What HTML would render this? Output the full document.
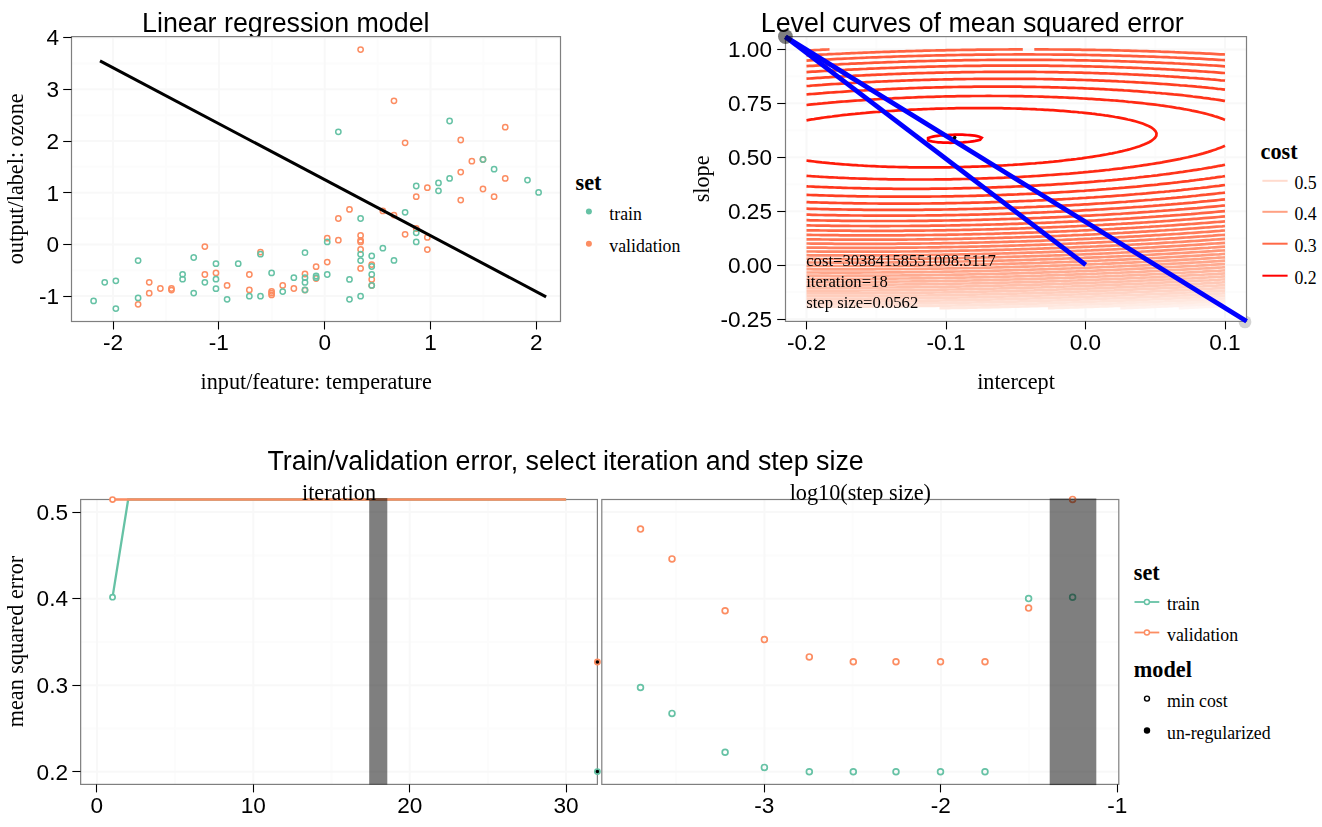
<!DOCTYPE html><html><head><meta charset="utf-8"><style>html,body{margin:0;padding:0;background:#fff;overflow:hidden;width:1322px;height:827px}.l{position:absolute;left:0;top:0}svg{display:block}</style></head><body><div class="l"><svg width="1322" height="827" viewBox="0 0 1322 827"><text x="575.60" y="190.30" font-family='"Liberation Serif", serif' font-size="22.22" text-anchor="start" font-weight="bold" fill="#000">set</text>
<circle cx="588.9" cy="211.6" r="3" fill="#66C2A5"/>
<circle cx="588.9" cy="243.8" r="3" fill="#FC8D62"/>
<text x="609.30" y="220.20" font-family='"Liberation Serif", serif' font-size="17.78" text-anchor="start" font-weight="normal" fill="#000">train</text>
<text x="609.30" y="252.30" font-family='"Liberation Serif", serif' font-size="17.78" text-anchor="start" font-weight="normal" fill="#000">validation</text>
<text x="1260.60" y="159.10" font-family='"Liberation Serif", serif' font-size="22.22" text-anchor="start" font-weight="bold" fill="#000">cost</text>
<line x1="1262.40" y1="180.80" x2="1287.60" y2="180.80" stroke="#FFDBCE" stroke-width="2" />
<text x="1294.40" y="189.00" font-family='"Liberation Serif", serif' font-size="17.78" text-anchor="start" font-weight="normal" fill="#000">0.5</text>
<line x1="1262.40" y1="211.80" x2="1287.60" y2="211.80" stroke="#FFA183" stroke-width="2" />
<text x="1294.40" y="220.00" font-family='"Liberation Serif", serif' font-size="17.78" text-anchor="start" font-weight="normal" fill="#000">0.4</text>
<line x1="1262.40" y1="243.70" x2="1287.60" y2="243.70" stroke="#FF6846" stroke-width="2" />
<text x="1294.40" y="251.90" font-family='"Liberation Serif", serif' font-size="17.78" text-anchor="start" font-weight="normal" fill="#000">0.3</text>
<line x1="1262.40" y1="275.70" x2="1287.60" y2="275.70" stroke="#FF0000" stroke-width="2" />
<text x="1294.40" y="283.90" font-family='"Liberation Serif", serif' font-size="17.78" text-anchor="start" font-weight="normal" fill="#000">0.2</text>
<text x="1133.80" y="580.10" font-family='"Liberation Serif", serif' font-size="22.22" text-anchor="start" font-weight="bold" fill="#000">set</text>
<line x1="1134.50" y1="602.00" x2="1159.30" y2="602.00" stroke="#66C2A5" stroke-width="1.8" />
<circle cx="1146.9" cy="602.0" r="2.5" fill="#fff" stroke="#66C2A5" stroke-width="1.4"/>
<text x="1167.00" y="609.90" font-family='"Liberation Serif", serif' font-size="17.78" text-anchor="start" font-weight="normal" fill="#000">train</text>
<line x1="1134.50" y1="632.50" x2="1159.30" y2="632.50" stroke="#FC8D62" stroke-width="1.8" />
<circle cx="1146.9" cy="632.5" r="2.5" fill="#fff" stroke="#FC8D62" stroke-width="1.4"/>
<text x="1167.00" y="640.90" font-family='"Liberation Serif", serif' font-size="17.78" text-anchor="start" font-weight="normal" fill="#000">validation</text>
<text x="1133.80" y="676.50" font-family='"Liberation Serif", serif' font-size="22.22" text-anchor="start" font-weight="bold" fill="#000">model</text>
<circle cx="1147.0" cy="698.6" r="2.5" fill="#fff" stroke="#000" stroke-width="1.4"/>
<circle cx="1147.0" cy="730.5" r="3.2" fill="#000"/>
<text x="1167.00" y="706.90" font-family='"Liberation Serif", serif' font-size="17.78" text-anchor="start" font-weight="normal" fill="#000">min cost</text>
<text x="1167.00" y="738.70" font-family='"Liberation Serif", serif' font-size="17.78" text-anchor="start" font-weight="normal" fill="#000">un-regularized</text></svg></div><div class="l" style="will-change:transform"><svg width="1322" height="827" viewBox="0 0 1322 827"><text x="285.80" y="31.50" font-family='"Liberation Sans", sans-serif' font-size="26.8" text-anchor="middle" font-weight="normal" fill="#000">Linear regression model</text>
<line x1="166.00" y1="36.60" x2="166.00" y2="321.50" stroke="#FCFCFC" stroke-width="2" />
<line x1="271.80" y1="36.60" x2="271.80" y2="321.50" stroke="#FCFCFC" stroke-width="2" />
<line x1="377.60" y1="36.60" x2="377.60" y2="321.50" stroke="#FCFCFC" stroke-width="2" />
<line x1="483.40" y1="36.60" x2="483.40" y2="321.50" stroke="#FCFCFC" stroke-width="2" />
<line x1="71.50" y1="270.25" x2="560.50" y2="270.25" stroke="#FCFCFC" stroke-width="2" />
<line x1="71.50" y1="218.55" x2="560.50" y2="218.55" stroke="#FCFCFC" stroke-width="2" />
<line x1="71.50" y1="166.85" x2="560.50" y2="166.85" stroke="#FCFCFC" stroke-width="2" />
<line x1="71.50" y1="115.15" x2="560.50" y2="115.15" stroke="#FCFCFC" stroke-width="2" />
<line x1="71.50" y1="63.45" x2="560.50" y2="63.45" stroke="#FCFCFC" stroke-width="2" />
<line x1="113.10" y1="36.60" x2="113.10" y2="321.50" stroke="#F8F8F8" stroke-width="2" />
<line x1="218.90" y1="36.60" x2="218.90" y2="321.50" stroke="#F8F8F8" stroke-width="2" />
<line x1="324.70" y1="36.60" x2="324.70" y2="321.50" stroke="#F8F8F8" stroke-width="2" />
<line x1="430.50" y1="36.60" x2="430.50" y2="321.50" stroke="#F8F8F8" stroke-width="2" />
<line x1="536.30" y1="36.60" x2="536.30" y2="321.50" stroke="#F8F8F8" stroke-width="2" />
<line x1="71.50" y1="296.10" x2="560.50" y2="296.10" stroke="#F8F8F8" stroke-width="2" />
<line x1="71.50" y1="244.40" x2="560.50" y2="244.40" stroke="#F8F8F8" stroke-width="2" />
<line x1="71.50" y1="192.70" x2="560.50" y2="192.70" stroke="#F8F8F8" stroke-width="2" />
<line x1="71.50" y1="141.00" x2="560.50" y2="141.00" stroke="#F8F8F8" stroke-width="2" />
<line x1="71.50" y1="89.30" x2="560.50" y2="89.30" stroke="#F8F8F8" stroke-width="2" />
<line x1="71.50" y1="37.60" x2="560.50" y2="37.60" stroke="#F8F8F8" stroke-width="2" />
<rect x="71.50" y="36.60" width="489.00" height="284.90" fill="none" stroke="#7F7F7F" stroke-width="1.2"/>
<circle cx="138.10" cy="304.30" r="2.65" fill="none" stroke="#FC8D62" stroke-width="1.5"/>
<circle cx="149.22" cy="282.30" r="2.65" fill="none" stroke="#FC8D62" stroke-width="1.5"/>
<circle cx="149.22" cy="293.20" r="2.65" fill="none" stroke="#FC8D62" stroke-width="1.5"/>
<circle cx="160.35" cy="288.50" r="2.65" fill="none" stroke="#FC8D62" stroke-width="1.5"/>
<circle cx="171.47" cy="288.50" r="2.65" fill="none" stroke="#FC8D62" stroke-width="1.5"/>
<circle cx="171.47" cy="290.10" r="2.65" fill="none" stroke="#FC8D62" stroke-width="1.5"/>
<circle cx="204.85" cy="246.60" r="2.65" fill="none" stroke="#FC8D62" stroke-width="1.5"/>
<circle cx="204.85" cy="274.50" r="2.65" fill="none" stroke="#FC8D62" stroke-width="1.5"/>
<circle cx="215.97" cy="272.90" r="2.65" fill="none" stroke="#FC8D62" stroke-width="1.5"/>
<circle cx="227.10" cy="285.40" r="2.65" fill="none" stroke="#FC8D62" stroke-width="1.5"/>
<circle cx="249.35" cy="274.50" r="2.65" fill="none" stroke="#FC8D62" stroke-width="1.5"/>
<circle cx="249.35" cy="289.90" r="2.65" fill="none" stroke="#FC8D62" stroke-width="1.5"/>
<circle cx="260.48" cy="252.10" r="2.65" fill="none" stroke="#FC8D62" stroke-width="1.5"/>
<circle cx="271.60" cy="291.30" r="2.65" fill="none" stroke="#FC8D62" stroke-width="1.5"/>
<circle cx="271.60" cy="293.20" r="2.65" fill="none" stroke="#FC8D62" stroke-width="1.5"/>
<circle cx="271.60" cy="294.90" r="2.65" fill="none" stroke="#FC8D62" stroke-width="1.5"/>
<circle cx="282.73" cy="285.40" r="2.65" fill="none" stroke="#FC8D62" stroke-width="1.5"/>
<circle cx="293.85" cy="288.50" r="2.65" fill="none" stroke="#FC8D62" stroke-width="1.5"/>
<circle cx="304.98" cy="274.00" r="2.65" fill="none" stroke="#FC8D62" stroke-width="1.5"/>
<circle cx="304.98" cy="290.10" r="2.65" fill="none" stroke="#FC8D62" stroke-width="1.5"/>
<circle cx="316.10" cy="266.70" r="2.65" fill="none" stroke="#FC8D62" stroke-width="1.5"/>
<circle cx="316.10" cy="278.50" r="2.65" fill="none" stroke="#FC8D62" stroke-width="1.5"/>
<circle cx="327.23" cy="238.20" r="2.65" fill="none" stroke="#FC8D62" stroke-width="1.5"/>
<circle cx="327.23" cy="262.10" r="2.65" fill="none" stroke="#FC8D62" stroke-width="1.5"/>
<circle cx="338.35" cy="240.20" r="2.65" fill="none" stroke="#FC8D62" stroke-width="1.5"/>
<circle cx="338.35" cy="218.50" r="2.65" fill="none" stroke="#FC8D62" stroke-width="1.5"/>
<circle cx="349.48" cy="209.40" r="2.65" fill="none" stroke="#FC8D62" stroke-width="1.5"/>
<circle cx="360.60" cy="49.60" r="2.65" fill="none" stroke="#FC8D62" stroke-width="1.5"/>
<circle cx="360.60" cy="235.40" r="2.65" fill="none" stroke="#FC8D62" stroke-width="1.5"/>
<circle cx="360.60" cy="240.40" r="2.65" fill="none" stroke="#FC8D62" stroke-width="1.5"/>
<circle cx="360.60" cy="241.90" r="2.65" fill="none" stroke="#FC8D62" stroke-width="1.5"/>
<circle cx="360.60" cy="249.50" r="2.65" fill="none" stroke="#FC8D62" stroke-width="1.5"/>
<circle cx="360.60" cy="268.40" r="2.65" fill="none" stroke="#FC8D62" stroke-width="1.5"/>
<circle cx="371.73" cy="264.60" r="2.65" fill="none" stroke="#FC8D62" stroke-width="1.5"/>
<circle cx="371.73" cy="279.40" r="2.65" fill="none" stroke="#FC8D62" stroke-width="1.5"/>
<circle cx="371.73" cy="285.60" r="2.65" fill="none" stroke="#FC8D62" stroke-width="1.5"/>
<circle cx="382.85" cy="210.90" r="2.65" fill="none" stroke="#FC8D62" stroke-width="1.5"/>
<circle cx="393.98" cy="215.10" r="2.65" fill="none" stroke="#FC8D62" stroke-width="1.5"/>
<circle cx="393.98" cy="100.80" r="2.65" fill="none" stroke="#FC8D62" stroke-width="1.5"/>
<circle cx="405.10" cy="142.80" r="2.65" fill="none" stroke="#FC8D62" stroke-width="1.5"/>
<circle cx="405.10" cy="234.30" r="2.65" fill="none" stroke="#FC8D62" stroke-width="1.5"/>
<circle cx="416.23" cy="196.70" r="2.65" fill="none" stroke="#FC8D62" stroke-width="1.5"/>
<circle cx="416.23" cy="228.50" r="2.65" fill="none" stroke="#FC8D62" stroke-width="1.5"/>
<circle cx="427.35" cy="187.70" r="2.65" fill="none" stroke="#FC8D62" stroke-width="1.5"/>
<circle cx="427.35" cy="237.40" r="2.65" fill="none" stroke="#FC8D62" stroke-width="1.5"/>
<circle cx="427.35" cy="249.60" r="2.65" fill="none" stroke="#FC8D62" stroke-width="1.5"/>
<circle cx="460.73" cy="140.00" r="2.65" fill="none" stroke="#FC8D62" stroke-width="1.5"/>
<circle cx="460.73" cy="172.10" r="2.65" fill="none" stroke="#FC8D62" stroke-width="1.5"/>
<circle cx="460.73" cy="200.10" r="2.65" fill="none" stroke="#FC8D62" stroke-width="1.5"/>
<circle cx="471.85" cy="161.20" r="2.65" fill="none" stroke="#FC8D62" stroke-width="1.5"/>
<circle cx="482.98" cy="189.00" r="2.65" fill="none" stroke="#FC8D62" stroke-width="1.5"/>
<circle cx="482.98" cy="159.50" r="2.65" fill="none" stroke="#FC8D62" stroke-width="1.5"/>
<circle cx="494.10" cy="196.70" r="2.65" fill="none" stroke="#FC8D62" stroke-width="1.5"/>
<circle cx="505.23" cy="127.20" r="2.65" fill="none" stroke="#FC8D62" stroke-width="1.5"/>
<circle cx="505.23" cy="178.40" r="2.65" fill="none" stroke="#FC8D62" stroke-width="1.5"/>
<circle cx="93.60" cy="300.90" r="2.65" fill="none" stroke="#66C2A5" stroke-width="1.5"/>
<circle cx="104.72" cy="282.30" r="2.65" fill="none" stroke="#66C2A5" stroke-width="1.5"/>
<circle cx="115.85" cy="280.80" r="2.65" fill="none" stroke="#66C2A5" stroke-width="1.5"/>
<circle cx="115.85" cy="308.60" r="2.65" fill="none" stroke="#66C2A5" stroke-width="1.5"/>
<circle cx="138.10" cy="260.60" r="2.65" fill="none" stroke="#66C2A5" stroke-width="1.5"/>
<circle cx="138.10" cy="297.90" r="2.65" fill="none" stroke="#66C2A5" stroke-width="1.5"/>
<circle cx="182.60" cy="274.30" r="2.65" fill="none" stroke="#66C2A5" stroke-width="1.5"/>
<circle cx="182.60" cy="279.20" r="2.65" fill="none" stroke="#66C2A5" stroke-width="1.5"/>
<circle cx="193.72" cy="257.50" r="2.65" fill="none" stroke="#66C2A5" stroke-width="1.5"/>
<circle cx="193.72" cy="293.10" r="2.65" fill="none" stroke="#66C2A5" stroke-width="1.5"/>
<circle cx="204.85" cy="282.30" r="2.65" fill="none" stroke="#66C2A5" stroke-width="1.5"/>
<circle cx="215.97" cy="263.70" r="2.65" fill="none" stroke="#66C2A5" stroke-width="1.5"/>
<circle cx="215.97" cy="279.20" r="2.65" fill="none" stroke="#66C2A5" stroke-width="1.5"/>
<circle cx="215.97" cy="288.70" r="2.65" fill="none" stroke="#66C2A5" stroke-width="1.5"/>
<circle cx="227.10" cy="299.30" r="2.65" fill="none" stroke="#66C2A5" stroke-width="1.5"/>
<circle cx="238.22" cy="263.70" r="2.65" fill="none" stroke="#66C2A5" stroke-width="1.5"/>
<circle cx="260.48" cy="254.20" r="2.65" fill="none" stroke="#66C2A5" stroke-width="1.5"/>
<circle cx="249.35" cy="296.20" r="2.65" fill="none" stroke="#66C2A5" stroke-width="1.5"/>
<circle cx="260.48" cy="296.20" r="2.65" fill="none" stroke="#66C2A5" stroke-width="1.5"/>
<circle cx="271.60" cy="272.90" r="2.65" fill="none" stroke="#66C2A5" stroke-width="1.5"/>
<circle cx="282.73" cy="291.60" r="2.65" fill="none" stroke="#66C2A5" stroke-width="1.5"/>
<circle cx="293.85" cy="277.70" r="2.65" fill="none" stroke="#66C2A5" stroke-width="1.5"/>
<circle cx="304.98" cy="252.70" r="2.65" fill="none" stroke="#66C2A5" stroke-width="1.5"/>
<circle cx="304.98" cy="277.70" r="2.65" fill="none" stroke="#66C2A5" stroke-width="1.5"/>
<circle cx="304.98" cy="282.40" r="2.65" fill="none" stroke="#66C2A5" stroke-width="1.5"/>
<circle cx="304.98" cy="289.90" r="2.65" fill="none" stroke="#66C2A5" stroke-width="1.5"/>
<circle cx="316.10" cy="276.00" r="2.65" fill="none" stroke="#66C2A5" stroke-width="1.5"/>
<circle cx="316.10" cy="277.70" r="2.65" fill="none" stroke="#66C2A5" stroke-width="1.5"/>
<circle cx="327.23" cy="241.90" r="2.65" fill="none" stroke="#66C2A5" stroke-width="1.5"/>
<circle cx="327.23" cy="274.50" r="2.65" fill="none" stroke="#66C2A5" stroke-width="1.5"/>
<circle cx="338.35" cy="131.80" r="2.65" fill="none" stroke="#66C2A5" stroke-width="1.5"/>
<circle cx="349.48" cy="279.40" r="2.65" fill="none" stroke="#66C2A5" stroke-width="1.5"/>
<circle cx="349.48" cy="299.30" r="2.65" fill="none" stroke="#66C2A5" stroke-width="1.5"/>
<circle cx="360.60" cy="218.50" r="2.65" fill="none" stroke="#66C2A5" stroke-width="1.5"/>
<circle cx="360.60" cy="254.20" r="2.65" fill="none" stroke="#66C2A5" stroke-width="1.5"/>
<circle cx="360.60" cy="260.60" r="2.65" fill="none" stroke="#66C2A5" stroke-width="1.5"/>
<circle cx="360.60" cy="296.20" r="2.65" fill="none" stroke="#66C2A5" stroke-width="1.5"/>
<circle cx="371.73" cy="255.90" r="2.65" fill="none" stroke="#66C2A5" stroke-width="1.5"/>
<circle cx="371.73" cy="266.50" r="2.65" fill="none" stroke="#66C2A5" stroke-width="1.5"/>
<circle cx="371.73" cy="274.50" r="2.65" fill="none" stroke="#66C2A5" stroke-width="1.5"/>
<circle cx="371.73" cy="285.40" r="2.65" fill="none" stroke="#66C2A5" stroke-width="1.5"/>
<circle cx="382.85" cy="248.20" r="2.65" fill="none" stroke="#66C2A5" stroke-width="1.5"/>
<circle cx="393.98" cy="260.40" r="2.65" fill="none" stroke="#66C2A5" stroke-width="1.5"/>
<circle cx="405.10" cy="212.30" r="2.65" fill="none" stroke="#66C2A5" stroke-width="1.5"/>
<circle cx="416.23" cy="232.80" r="2.65" fill="none" stroke="#66C2A5" stroke-width="1.5"/>
<circle cx="416.23" cy="241.90" r="2.65" fill="none" stroke="#66C2A5" stroke-width="1.5"/>
<circle cx="416.23" cy="186.00" r="2.65" fill="none" stroke="#66C2A5" stroke-width="1.5"/>
<circle cx="438.48" cy="182.90" r="2.65" fill="none" stroke="#66C2A5" stroke-width="1.5"/>
<circle cx="438.48" cy="190.80" r="2.65" fill="none" stroke="#66C2A5" stroke-width="1.5"/>
<circle cx="449.60" cy="178.40" r="2.65" fill="none" stroke="#66C2A5" stroke-width="1.5"/>
<circle cx="449.60" cy="121.00" r="2.65" fill="none" stroke="#66C2A5" stroke-width="1.5"/>
<circle cx="482.98" cy="159.50" r="2.65" fill="none" stroke="#66C2A5" stroke-width="1.5"/>
<circle cx="494.10" cy="169.20" r="2.65" fill="none" stroke="#66C2A5" stroke-width="1.5"/>
<circle cx="527.48" cy="180.10" r="2.65" fill="none" stroke="#66C2A5" stroke-width="1.5"/>
<circle cx="538.60" cy="192.40" r="2.65" fill="none" stroke="#66C2A5" stroke-width="1.5"/>
<line x1="100.00" y1="60.80" x2="546.10" y2="296.80" stroke="#000" stroke-width="3" />
<line x1="63.20" y1="37.50" x2="71.50" y2="37.50" stroke="#000" stroke-width="1.1" />
<text x="59.20" y="45.40" font-family='"Liberation Sans", sans-serif' font-size="22.6" text-anchor="end" font-weight="normal" fill="#000">4</text>
<line x1="63.20" y1="89.50" x2="71.50" y2="89.50" stroke="#000" stroke-width="1.1" />
<text x="59.20" y="97.10" font-family='"Liberation Sans", sans-serif' font-size="22.6" text-anchor="end" font-weight="normal" fill="#000">3</text>
<line x1="63.20" y1="141.50" x2="71.50" y2="141.50" stroke="#000" stroke-width="1.1" />
<text x="59.20" y="148.80" font-family='"Liberation Sans", sans-serif' font-size="22.6" text-anchor="end" font-weight="normal" fill="#000">2</text>
<line x1="63.20" y1="192.50" x2="71.50" y2="192.50" stroke="#000" stroke-width="1.1" />
<text x="59.20" y="200.50" font-family='"Liberation Sans", sans-serif' font-size="22.6" text-anchor="end" font-weight="normal" fill="#000">1</text>
<line x1="63.20" y1="244.50" x2="71.50" y2="244.50" stroke="#000" stroke-width="1.1" />
<text x="59.20" y="252.20" font-family='"Liberation Sans", sans-serif' font-size="22.6" text-anchor="end" font-weight="normal" fill="#000">0</text>
<line x1="63.20" y1="296.50" x2="71.50" y2="296.50" stroke="#000" stroke-width="1.1" />
<text x="59.20" y="303.90" font-family='"Liberation Sans", sans-serif' font-size="22.6" text-anchor="end" font-weight="normal" fill="#000">-1</text>
<line x1="113.50" y1="321.50" x2="113.50" y2="329.50" stroke="#000" stroke-width="1.1" />
<text x="113.10" y="349.70" font-family='"Liberation Sans", sans-serif' font-size="22.6" text-anchor="middle" font-weight="normal" fill="#000">-2</text>
<line x1="218.50" y1="321.50" x2="218.50" y2="329.50" stroke="#000" stroke-width="1.1" />
<text x="218.90" y="349.70" font-family='"Liberation Sans", sans-serif' font-size="22.6" text-anchor="middle" font-weight="normal" fill="#000">-1</text>
<line x1="324.50" y1="321.50" x2="324.50" y2="329.50" stroke="#000" stroke-width="1.1" />
<text x="324.70" y="349.70" font-family='"Liberation Sans", sans-serif' font-size="22.6" text-anchor="middle" font-weight="normal" fill="#000">0</text>
<line x1="430.50" y1="321.50" x2="430.50" y2="329.50" stroke="#000" stroke-width="1.1" />
<text x="430.50" y="349.70" font-family='"Liberation Sans", sans-serif' font-size="22.6" text-anchor="middle" font-weight="normal" fill="#000">1</text>
<line x1="536.50" y1="321.50" x2="536.50" y2="329.50" stroke="#000" stroke-width="1.1" />
<text x="536.30" y="349.70" font-family='"Liberation Sans", sans-serif' font-size="22.6" text-anchor="middle" font-weight="normal" fill="#000">2</text>
<text x="316.20" y="388.70" font-family='"Liberation Serif", serif' font-size="22.22" text-anchor="middle" font-weight="normal" fill="#000">input/feature: temperature</text>
<text x="23.50" y="178.80" font-family='"Liberation Serif", serif' font-size="22.22" text-anchor="middle" font-weight="normal" fill="#000" transform="rotate(-90 23.5 178.8)">output/label: ozone</text>
<text x="972.30" y="31.50" font-family='"Liberation Sans", sans-serif' font-size="26.8" text-anchor="middle" font-weight="normal" fill="#000">Level curves of mean squared error</text>
<circle cx="1245.0" cy="321.9" r="6.4" fill="#D3D3D3"/>
<rect x="785.5" y="36.6" width="461.0" height="284.79999999999995" fill="#fff"/>
<line x1="876.25" y1="36.60" x2="876.25" y2="321.40" stroke="#FCFCFC" stroke-width="2" />
<line x1="1015.75" y1="36.60" x2="1015.75" y2="321.40" stroke="#FCFCFC" stroke-width="2" />
<line x1="1155.25" y1="36.60" x2="1155.25" y2="321.40" stroke="#FCFCFC" stroke-width="2" />
<line x1="785.50" y1="292.06" x2="1246.50" y2="292.06" stroke="#FCFCFC" stroke-width="2" />
<line x1="785.50" y1="238.14" x2="1246.50" y2="238.14" stroke="#FCFCFC" stroke-width="2" />
<line x1="785.50" y1="184.21" x2="1246.50" y2="184.21" stroke="#FCFCFC" stroke-width="2" />
<line x1="785.50" y1="130.29" x2="1246.50" y2="130.29" stroke="#FCFCFC" stroke-width="2" />
<line x1="785.50" y1="76.36" x2="1246.50" y2="76.36" stroke="#FCFCFC" stroke-width="2" />
<line x1="806.50" y1="36.60" x2="806.50" y2="321.40" stroke="#F8F8F8" stroke-width="2" />
<line x1="946.00" y1="36.60" x2="946.00" y2="321.40" stroke="#F8F8F8" stroke-width="2" />
<line x1="1085.50" y1="36.60" x2="1085.50" y2="321.40" stroke="#F8F8F8" stroke-width="2" />
<line x1="1225.00" y1="36.60" x2="1225.00" y2="321.40" stroke="#F8F8F8" stroke-width="2" />
<line x1="785.50" y1="319.03" x2="1246.50" y2="319.03" stroke="#F8F8F8" stroke-width="2" />
<line x1="785.50" y1="265.10" x2="1246.50" y2="265.10" stroke="#F8F8F8" stroke-width="2" />
<line x1="785.50" y1="211.18" x2="1246.50" y2="211.18" stroke="#F8F8F8" stroke-width="2" />
<line x1="785.50" y1="157.25" x2="1246.50" y2="157.25" stroke="#F8F8F8" stroke-width="2" />
<line x1="785.50" y1="103.33" x2="1246.50" y2="103.33" stroke="#F8F8F8" stroke-width="2" />
<line x1="785.50" y1="49.40" x2="1246.50" y2="49.40" stroke="#F8F8F8" stroke-width="2" />
<rect x="785.50" y="36.60" width="461.00" height="284.80" fill="none" stroke="#7F7F7F" stroke-width="1.2"/>
<path d="M1225.0,306.0 L1220.1,306.3 L1217.6,306.4 L1215.1,306.5 L1212.6,306.6 L1210.1,306.8 L1207.6,306.9 L1205.1,307.0 L1202.6,307.1 L1200.1,307.2 L1197.6,307.4 L1195.1,307.5 L1192.6,307.6 L1190.1,307.7 L1187.6,307.8 L1185.0,308.0 L1182.5,308.1 L1180.0,308.2 L1178.8,308.2" fill="none" stroke="#FFF5F2" stroke-width="2.7"/>
<path d="M1225.0,303.5 L1221.4,303.7 L1218.9,303.8 L1216.5,304.0 L1214.0,304.1 L1211.5,304.2 L1209.1,304.3 L1206.6,304.5 L1204.1,304.6 L1201.7,304.7 L1199.2,304.8 L1196.7,304.9 L1194.3,305.1 L1191.8,305.2 L1189.3,305.3 L1186.9,305.4 L1184.4,305.5 L1181.9,305.6 L1179.4,305.8 L1177.0,305.9 L1174.5,306.0 L1172.0,306.1 L1169.5,306.2 L1167.0,306.3 L1164.6,306.4 L1162.1,306.5 L1159.6,306.6 L1157.1,306.7 L1154.6,306.9 L1152.1,307.0 L1149.6,307.1 L1147.2,307.2 L1144.7,307.3 L1142.2,307.4 L1139.7,307.5 L1137.2,307.6 L1134.7,307.7 L1132.2,307.8 L1129.7,307.9 L1127.2,308.0 L1124.7,308.1 L1122.2,308.2 L1120.3,308.2" fill="none" stroke="#FFF0EB" stroke-width="2.7"/>
<path d="M1225.0,301.0 L1222.5,301.1 L1217.6,301.4 L1212.8,301.6 L1207.9,301.9 L1203.1,302.1 L1198.2,302.4 L1193.3,302.6 L1188.5,302.8 L1183.6,303.1 L1178.7,303.3 L1173.8,303.5 L1169.0,303.7 L1164.1,304.0 L1159.2,304.2 L1156.7,304.3 L1154.3,304.4 L1151.8,304.5 L1149.4,304.6 L1146.9,304.7 L1144.5,304.8 L1142.0,304.9 L1139.6,305.0 L1137.1,305.1 L1134.6,305.2 L1132.2,305.3 L1129.7,305.4 L1127.3,305.5 L1124.8,305.6 L1122.4,305.7 L1119.9,305.8 L1117.4,305.9 L1115.0,306.0 L1112.5,306.1 L1110.0,306.2 L1107.6,306.3 L1105.1,306.3 L1102.6,306.4 L1100.2,306.5 L1097.7,306.6 L1095.2,306.7 L1092.8,306.8 L1090.3,306.9 L1087.8,307.0 L1085.4,307.0 L1082.9,307.1 L1080.4,307.2 L1078.0,307.3 L1075.5,307.4 L1073.0,307.5 L1070.5,307.5 L1068.1,307.6 L1065.6,307.7 L1063.1,307.8 L1060.6,307.9 L1058.2,307.9 L1055.7,308.0 L1053.2,308.1 L1050.7,308.2 L1048.3,308.2 L1047.9,308.2" fill="none" stroke="#FFECE4" stroke-width="2.7"/>
<path d="M1225.0,298.5 L1221.0,298.7 L1216.2,298.9 L1211.5,299.2 L1206.7,299.4 L1201.9,299.6 L1197.1,299.9 L1192.3,300.1 L1187.5,300.3 L1182.7,300.6 L1177.9,300.8 L1173.1,301.0 L1168.3,301.2 L1163.5,301.5 L1158.6,301.7 L1153.8,301.9 L1149.0,302.1 L1144.1,302.3 L1139.3,302.5 L1134.5,302.7 L1129.6,302.9 L1124.8,303.1 L1119.9,303.3 L1115.1,303.5 L1110.2,303.6 L1105.4,303.8 L1100.5,304.0 L1095.7,304.2 L1090.8,304.4 L1085.9,304.5 L1081.1,304.7 L1076.2,304.9 L1071.3,305.0 L1066.4,305.2 L1061.6,305.3 L1056.7,305.5 L1051.8,305.6 L1046.9,305.8 L1042.0,305.9 L1037.1,306.1 L1032.3,306.2 L1027.4,306.3 L1022.5,306.5 L1017.6,306.6 L1012.7,306.7 L1007.8,306.8 L1002.9,307.0 L998.0,307.1 L993.1,307.2 L988.2,307.3 L983.3,307.4 L978.4,307.5 L976.0,307.6 L973.5,307.6 L971.1,307.7 L968.6,307.7 L966.2,307.8 L963.7,307.8 L961.3,307.9 L958.8,307.9 L956.4,307.9 L953.9,308.0 L951.5,308.0 L949.0,308.1 L946.6,308.1 L944.1,308.2 L941.7,308.2 L939.5,308.2" fill="none" stroke="#FFE7DE" stroke-width="2.7"/>
<path d="M1225.0,295.9 L1221.8,296.0 L1217.1,296.3 L1212.4,296.5 L1207.7,296.8 L1202.9,297.0 L1198.2,297.3 L1193.5,297.5 L1188.8,297.7 L1184.1,297.9 L1179.3,298.2 L1174.6,298.4 L1169.9,298.6 L1165.1,298.8 L1160.4,299.0 L1155.6,299.2 L1150.9,299.5 L1146.1,299.7 L1141.3,299.9 L1136.6,300.1 L1131.8,300.3 L1127.0,300.4 L1122.3,300.6 L1117.5,300.8 L1112.7,301.0 L1107.9,301.2 L1103.1,301.4 L1098.4,301.5 L1093.6,301.7 L1088.8,301.9 L1084.0,302.1 L1079.2,302.2 L1074.4,302.4 L1069.6,302.5 L1064.8,302.7 L1060.0,302.8 L1055.2,303.0 L1050.4,303.1 L1045.5,303.3 L1040.7,303.4 L1035.9,303.6 L1031.1,303.7 L1026.3,303.8 L1021.5,304.0 L1016.6,304.1 L1011.8,304.2 L1007.0,304.3 L1002.2,304.5 L997.4,304.6 L992.5,304.7 L987.7,304.8 L982.9,304.9 L978.1,305.0 L973.2,305.1 L968.4,305.2 L963.6,305.3 L958.8,305.4 L953.9,305.5 L949.1,305.6 L944.3,305.6 L939.4,305.7 L934.6,305.8 L929.8,305.9 L925.0,305.9 L920.1,306.0 L915.3,306.1 L910.5,306.1 L905.7,306.2 L900.9,306.3 L896.0,306.3 L891.2,306.4 L886.4,306.4 L881.6,306.4 L876.8,306.5 L871.9,306.5 L867.1,306.6 L862.3,306.6 L857.5,306.6 L852.7,306.6 L847.9,306.7 L843.1,306.7 L838.3,306.7 L833.5,306.7 L828.7,306.7 L823.9,306.7 L819.1,306.8 L814.3,306.8 L809.5,306.8 L806.5,306.8" fill="none" stroke="#FFE2D7" stroke-width="2.7"/>
<path d="M1225.0,293.2 L1222.3,293.4 L1217.7,293.6 L1213.1,293.9 L1208.4,294.1 L1203.8,294.3 L1199.1,294.6 L1194.5,294.8 L1189.9,295.0 L1185.2,295.3 L1180.6,295.5 L1175.9,295.7 L1171.2,295.9 L1166.6,296.1 L1161.9,296.4 L1157.2,296.6 L1152.5,296.8 L1147.9,297.0 L1143.2,297.2 L1138.5,297.4 L1133.8,297.6 L1129.1,297.8 L1124.4,298.0 L1119.7,298.1 L1115.0,298.3 L1110.3,298.5 L1105.6,298.7 L1100.9,298.9 L1096.2,299.0 L1091.4,299.2 L1086.7,299.4 L1082.0,299.5 L1077.3,299.7 L1072.5,299.9 L1067.8,300.0 L1063.1,300.2 L1058.4,300.3 L1053.6,300.5 L1048.9,300.6 L1044.1,300.8 L1039.4,300.9 L1034.7,301.0 L1029.9,301.2 L1025.2,301.3 L1020.4,301.4 L1015.7,301.6 L1010.9,301.7 L1006.2,301.8 L1001.5,301.9 L996.7,302.0 L992.0,302.1 L987.2,302.2 L982.4,302.3 L977.7,302.4 L972.9,302.5 L968.2,302.6 L963.4,302.7 L958.7,302.8 L953.9,302.9 L949.2,303.0 L944.4,303.1 L939.7,303.2 L934.9,303.2 L930.2,303.3 L925.4,303.4 L920.7,303.4 L915.9,303.5 L911.2,303.6 L906.4,303.6 L901.7,303.7 L896.9,303.7 L892.2,303.8 L887.4,303.8 L882.7,303.9 L877.9,303.9 L873.2,303.9 L868.5,304.0 L863.7,304.0 L859.0,304.0 L854.3,304.1 L849.5,304.1 L844.8,304.1 L840.1,304.1 L835.3,304.1 L830.6,304.2 L825.9,304.2 L821.2,304.2 L816.4,304.2 L811.7,304.2 L807.0,304.2 L806.5,304.2" fill="none" stroke="#FFDDD1" stroke-width="2.7"/>
<path d="M1225.0,290.6 L1220.4,290.8 L1215.8,291.1 L1211.3,291.3 L1206.7,291.5 L1202.1,291.8 L1197.6,292.0 L1193.0,292.2 L1188.4,292.5 L1183.9,292.7 L1179.3,292.9 L1174.7,293.1 L1170.1,293.3 L1165.5,293.6 L1160.9,293.8 L1156.3,294.0 L1151.7,294.2 L1147.1,294.4 L1142.5,294.6 L1137.9,294.8 L1133.3,295.0 L1128.7,295.2 L1124.0,295.3 L1119.4,295.5 L1114.8,295.7 L1110.1,295.9 L1105.5,296.1 L1100.9,296.2 L1096.2,296.4 L1091.6,296.6 L1087.0,296.8 L1082.3,296.9 L1077.7,297.1 L1073.0,297.2 L1068.4,297.4 L1063.7,297.5 L1059.0,297.7 L1054.4,297.8 L1049.7,298.0 L1045.1,298.1 L1040.4,298.3 L1035.7,298.4 L1031.1,298.5 L1026.4,298.7 L1021.7,298.8 L1017.1,298.9 L1012.4,299.0 L1007.7,299.2 L1003.0,299.3 L998.4,299.4 L993.7,299.5 L989.0,299.6 L984.3,299.7 L979.7,299.8 L975.0,299.9 L970.3,300.0 L965.6,300.1 L961.0,300.2 L956.3,300.3 L951.6,300.4 L946.9,300.4 L942.2,300.5 L937.6,300.6 L932.9,300.7 L928.2,300.7 L923.5,300.8 L918.9,300.9 L914.2,300.9 L909.5,301.0 L904.8,301.0 L900.2,301.1 L895.5,301.1 L890.8,301.2 L886.1,301.2 L881.5,301.3 L876.8,301.3 L872.1,301.4 L867.5,301.4 L862.8,301.4 L858.2,301.4 L853.5,301.5 L848.8,301.5 L844.2,301.5 L839.5,301.5 L834.9,301.5 L830.2,301.5 L825.6,301.6 L820.9,301.6 L816.3,301.6 L811.6,301.6 L807.0,301.5 L806.5,301.5" fill="none" stroke="#FFD8CA" stroke-width="2.7"/>
<path d="M1225.0,287.8 L1220.5,288.1 L1216.0,288.3 L1211.6,288.6 L1207.1,288.8 L1202.6,289.0 L1198.1,289.3 L1193.6,289.5 L1189.1,289.7 L1184.6,289.9 L1180.1,290.2 L1175.6,290.4 L1171.1,290.6 L1166.6,290.8 L1162.1,291.0 L1157.6,291.2 L1153.0,291.4 L1148.5,291.6 L1144.0,291.8 L1139.4,292.0 L1134.9,292.2 L1130.4,292.4 L1125.8,292.6 L1121.3,292.8 L1116.7,293.0 L1112.2,293.1 L1107.6,293.3 L1103.1,293.5 L1098.5,293.7 L1093.9,293.8 L1089.4,294.0 L1084.8,294.2 L1080.2,294.3 L1075.7,294.5 L1071.1,294.6 L1066.5,294.8 L1061.9,294.9 L1057.3,295.1 L1052.8,295.2 L1048.2,295.4 L1043.6,295.5 L1039.0,295.7 L1034.4,295.8 L1029.8,295.9 L1025.2,296.0 L1020.6,296.2 L1016.0,296.3 L1011.4,296.4 L1006.9,296.5 L1002.3,296.6 L997.7,296.8 L993.1,296.9 L988.5,297.0 L983.9,297.1 L979.3,297.2 L974.7,297.3 L970.1,297.4 L965.5,297.5 L960.8,297.5 L956.2,297.6 L951.6,297.7 L947.0,297.8 L942.4,297.9 L937.8,297.9 L933.2,298.0 L928.6,298.1 L924.0,298.1 L919.4,298.2 L914.8,298.3 L910.2,298.3 L905.6,298.4 L901.0,298.4 L896.4,298.5 L891.9,298.5 L887.3,298.6 L882.7,298.6 L878.1,298.7 L873.5,298.7 L868.9,298.7 L864.3,298.8 L859.7,298.8 L855.1,298.8 L850.6,298.8 L846.0,298.8 L841.4,298.9 L836.8,298.9 L832.2,298.9 L827.7,298.9 L823.1,298.9 L818.5,298.9 L814.0,298.9 L809.4,298.9 L806.5,298.9" fill="none" stroke="#FFD3C4" stroke-width="2.7"/>
<path d="M1225.0,285.1 L1220.4,285.3 L1216.0,285.6 L1211.6,285.8 L1207.2,286.0 L1202.8,286.3 L1198.4,286.5 L1194.0,286.7 L1189.6,286.9 L1185.2,287.2 L1180.8,287.4 L1176.3,287.6 L1171.9,287.8 L1167.5,288.0 L1163.0,288.2 L1158.6,288.4 L1154.1,288.6 L1149.7,288.8 L1145.2,289.0 L1140.8,289.2 L1136.3,289.4 L1131.9,289.6 L1127.4,289.8 L1122.9,290.0 L1118.5,290.2 L1114.0,290.4 L1109.5,290.5 L1105.0,290.7 L1100.6,290.9 L1096.1,291.1 L1091.6,291.2 L1087.1,291.4 L1082.6,291.5 L1078.1,291.7 L1073.6,291.9 L1069.1,292.0 L1064.6,292.2 L1060.1,292.3 L1055.6,292.5 L1051.1,292.6 L1046.6,292.7 L1042.1,292.9 L1037.6,293.0 L1033.1,293.1 L1028.6,293.3 L1024.0,293.4 L1019.5,293.5 L1015.0,293.6 L1010.5,293.7 L1006.0,293.9 L1001.4,294.0 L996.9,294.1 L992.4,294.2 L987.9,294.3 L983.4,294.4 L978.8,294.5 L974.3,294.6 L969.8,294.7 L965.3,294.8 L960.7,294.9 L956.2,294.9 L951.7,295.0 L947.2,295.1 L942.6,295.2 L938.1,295.3 L933.6,295.3 L929.1,295.4 L924.5,295.5 L920.0,295.5 L915.5,295.6 L911.0,295.6 L906.5,295.7 L901.9,295.7 L897.4,295.8 L892.9,295.8 L888.4,295.9 L883.9,295.9 L879.4,296.0 L874.8,296.0 L870.3,296.0 L865.8,296.0 L861.3,296.1 L856.8,296.1 L852.3,296.1 L847.8,296.1 L843.3,296.2 L838.8,296.2 L834.3,296.2 L829.8,296.2 L825.3,296.2 L820.8,296.2 L816.3,296.2 L811.8,296.2 L807.4,296.2 L806.5,296.2" fill="none" stroke="#FFCEBD" stroke-width="2.7"/>
<path d="M1225.0,282.2 L1222.2,282.4 L1217.9,282.6 L1213.6,282.9 L1209.3,283.1 L1205.0,283.3 L1200.7,283.6 L1196.4,283.8 L1192.0,284.0 L1187.7,284.2 L1183.3,284.5 L1179.0,284.7 L1174.7,284.9 L1170.3,285.1 L1165.9,285.3 L1161.6,285.5 L1157.2,285.7 L1152.9,285.9 L1148.5,286.1 L1144.1,286.3 L1139.7,286.5 L1135.4,286.7 L1131.0,286.9 L1126.6,287.1 L1122.2,287.3 L1117.8,287.4 L1113.4,287.6 L1109.0,287.8 L1104.6,288.0 L1100.2,288.1 L1095.8,288.3 L1091.4,288.5 L1087.0,288.6 L1082.6,288.8 L1078.2,288.9 L1073.8,289.1 L1069.3,289.3 L1064.9,289.4 L1060.5,289.5 L1056.1,289.7 L1051.6,289.8 L1047.2,290.0 L1042.8,290.1 L1038.3,290.2 L1033.9,290.4 L1029.5,290.5 L1025.0,290.6 L1020.6,290.7 L1016.2,290.9 L1011.7,291.0 L1007.3,291.1 L1002.8,291.2 L998.4,291.3 L994.0,291.4 L989.5,291.5 L985.1,291.6 L980.6,291.7 L976.2,291.8 L971.7,291.9 L967.3,292.0 L962.9,292.1 L958.4,292.2 L954.0,292.2 L949.5,292.3 L945.1,292.4 L940.6,292.5 L936.2,292.5 L931.7,292.6 L927.3,292.7 L922.8,292.7 L918.4,292.8 L914.0,292.9 L909.5,292.9 L905.1,293.0 L900.6,293.0 L896.2,293.1 L891.7,293.1 L887.3,293.1 L882.9,293.2 L878.4,293.2 L874.0,293.3 L869.6,293.3 L865.1,293.3 L860.7,293.3 L856.3,293.4 L851.9,293.4 L847.4,293.4 L843.0,293.4 L838.6,293.4 L834.2,293.4 L829.8,293.4 L825.3,293.4 L820.9,293.4 L816.5,293.4 L812.1,293.4 L807.7,293.4 L806.5,293.4" fill="none" stroke="#FFC9B7" stroke-width="2.7"/>
<path d="M1225.0,279.4 L1221.6,279.5 L1217.4,279.8 L1213.2,280.0 L1209.0,280.3 L1204.7,280.5 L1200.5,280.7 L1196.2,280.9 L1192.0,281.2 L1187.7,281.4 L1183.5,281.6 L1179.2,281.8 L1175.0,282.0 L1170.7,282.2 L1166.4,282.4 L1162.1,282.7 L1157.9,282.9 L1153.6,283.1 L1149.3,283.3 L1145.0,283.5 L1140.7,283.6 L1136.4,283.8 L1132.1,284.0 L1127.8,284.2 L1123.5,284.4 L1119.2,284.6 L1114.9,284.7 L1110.6,284.9 L1106.2,285.1 L1101.9,285.3 L1097.6,285.4 L1093.3,285.6 L1088.9,285.8 L1084.6,285.9 L1080.3,286.1 L1075.9,286.2 L1071.6,286.4 L1067.3,286.5 L1062.9,286.7 L1058.6,286.8 L1054.2,287.0 L1049.9,287.1 L1045.5,287.2 L1041.2,287.4 L1036.8,287.5 L1032.5,287.6 L1028.1,287.7 L1023.8,287.9 L1019.4,288.0 L1015.1,288.1 L1010.7,288.2 L1006.3,288.3 L1002.0,288.4 L997.6,288.5 L993.3,288.7 L988.9,288.8 L984.5,288.9 L980.2,288.9 L975.8,289.0 L971.4,289.1 L967.1,289.2 L962.7,289.3 L958.3,289.4 L954.0,289.5 L949.6,289.5 L945.2,289.6 L940.9,289.7 L936.5,289.8 L932.1,289.8 L927.8,289.9 L923.4,290.0 L919.0,290.0 L914.7,290.1 L910.3,290.1 L906.0,290.2 L901.6,290.2 L897.2,290.3 L892.9,290.3 L888.5,290.3 L884.2,290.4 L879.8,290.4 L875.4,290.5 L871.1,290.5 L866.7,290.5 L862.4,290.5 L858.0,290.6 L853.7,290.6 L849.4,290.6 L845.0,290.6 L840.7,290.6 L836.3,290.6 L832.0,290.6 L827.7,290.6 L823.3,290.6 L819.0,290.6 L814.7,290.6 L810.3,290.6 L806.5,290.6" fill="none" stroke="#FFC4B0" stroke-width="2.7"/>
<path d="M1225.0,276.4 L1220.8,276.7 L1216.6,276.9 L1212.5,277.1 L1208.4,277.4 L1204.2,277.6 L1200.0,277.8 L1195.9,278.0 L1191.7,278.3 L1187.6,278.5 L1183.4,278.7 L1179.2,278.9 L1175.0,279.1 L1170.8,279.3 L1166.6,279.5 L1162.4,279.7 L1158.3,279.9 L1154.1,280.1 L1149.8,280.3 L1145.6,280.5 L1141.4,280.7 L1137.2,280.9 L1133.0,281.1 L1128.8,281.3 L1124.6,281.5 L1120.3,281.6 L1116.1,281.8 L1111.9,282.0 L1107.6,282.2 L1103.4,282.3 L1099.2,282.5 L1094.9,282.7 L1090.7,282.8 L1086.4,283.0 L1082.2,283.1 L1077.9,283.3 L1073.7,283.4 L1069.4,283.6 L1065.2,283.7 L1060.9,283.9 L1056.6,284.0 L1052.4,284.2 L1048.1,284.3 L1043.8,284.4 L1039.6,284.6 L1035.3,284.7 L1031.0,284.8 L1026.7,284.9 L1022.5,285.1 L1018.2,285.2 L1013.9,285.3 L1009.6,285.4 L1005.4,285.5 L1001.1,285.6 L996.8,285.7 L992.5,285.8 L988.2,285.9 L984.0,286.0 L979.7,286.1 L975.4,286.2 L971.1,286.3 L966.8,286.4 L962.5,286.5 L958.3,286.6 L954.0,286.6 L949.7,286.7 L945.4,286.8 L941.1,286.9 L936.8,286.9 L932.5,287.0 L928.3,287.0 L924.0,287.1 L919.7,287.2 L915.4,287.2 L911.1,287.3 L906.9,287.3 L902.6,287.4 L898.3,287.4 L894.0,287.5 L889.7,287.5 L885.5,287.5 L881.2,287.6 L876.9,287.6 L872.7,287.6 L868.4,287.7 L864.1,287.7 L859.8,287.7 L855.6,287.7 L851.3,287.7 L847.1,287.7 L842.8,287.8 L838.5,287.8 L834.3,287.8 L830.0,287.8 L825.8,287.8 L821.5,287.8 L817.3,287.8 L813.0,287.8 L808.8,287.7 L806.5,287.7" fill="none" stroke="#FFBFAA" stroke-width="2.7"/>
<path d="M1225.0,273.4 L1221.7,273.6 L1217.6,273.9 L1213.6,274.1 L1209.5,274.3 L1205.5,274.5 L1201.4,274.8 L1197.3,275.0 L1193.2,275.2 L1189.2,275.4 L1185.1,275.6 L1181.0,275.9 L1176.9,276.1 L1172.8,276.3 L1168.7,276.5 L1164.6,276.7 L1160.5,276.9 L1156.4,277.1 L1152.2,277.3 L1148.1,277.5 L1144.0,277.7 L1139.9,277.9 L1135.7,278.0 L1131.6,278.2 L1127.5,278.4 L1123.3,278.6 L1119.2,278.8 L1115.0,278.9 L1110.9,279.1 L1106.7,279.3 L1102.6,279.4 L1098.4,279.6 L1094.3,279.8 L1090.1,279.9 L1085.9,280.1 L1081.8,280.2 L1077.6,280.4 L1073.4,280.5 L1069.3,280.7 L1065.1,280.8 L1060.9,281.0 L1056.7,281.1 L1052.6,281.3 L1048.4,281.4 L1044.2,281.5 L1040.0,281.7 L1035.8,281.8 L1031.6,281.9 L1027.4,282.0 L1023.2,282.1 L1019.1,282.3 L1014.9,282.4 L1010.7,282.5 L1006.5,282.6 L1002.3,282.7 L998.1,282.8 L993.9,282.9 L989.7,283.0 L985.5,283.1 L981.3,283.2 L977.1,283.3 L972.9,283.4 L968.7,283.5 L964.5,283.5 L960.3,283.6 L956.1,283.7 L951.9,283.8 L947.7,283.9 L943.5,283.9 L939.3,284.0 L935.1,284.1 L930.9,284.1 L926.7,284.2 L922.5,284.2 L918.3,284.3 L914.1,284.3 L909.9,284.4 L905.7,284.4 L901.5,284.5 L897.3,284.5 L893.1,284.6 L888.9,284.6 L884.7,284.6 L880.5,284.7 L876.3,284.7 L872.1,284.7 L868.0,284.8 L863.8,284.8 L859.6,284.8 L855.4,284.8 L851.2,284.8 L847.0,284.8 L842.9,284.8 L838.7,284.9 L834.5,284.9 L830.4,284.9 L826.2,284.9 L822.0,284.9 L817.9,284.8 L813.7,284.8 L809.5,284.8 L806.5,284.8" fill="none" stroke="#FFBAA4" stroke-width="2.7"/>
<path d="M1225.0,270.4 L1222.2,270.5 L1218.3,270.8 L1214.3,271.0 L1210.3,271.2 L1206.4,271.4 L1202.4,271.7 L1198.4,271.9 L1194.4,272.1 L1190.4,272.3 L1186.4,272.5 L1182.4,272.8 L1178.4,273.0 L1174.4,273.2 L1170.4,273.4 L1166.4,273.6 L1162.3,273.8 L1158.3,274.0 L1154.3,274.2 L1150.3,274.4 L1146.2,274.6 L1142.2,274.8 L1138.1,274.9 L1134.1,275.1 L1130.0,275.3 L1126.0,275.5 L1121.9,275.7 L1117.9,275.8 L1113.8,276.0 L1109.8,276.2 L1105.7,276.3 L1101.6,276.5 L1097.6,276.7 L1093.5,276.8 L1089.4,277.0 L1085.3,277.1 L1081.2,277.3 L1077.2,277.4 L1073.1,277.6 L1069.0,277.7 L1064.9,277.9 L1060.8,278.0 L1056.7,278.2 L1052.6,278.3 L1048.5,278.4 L1044.4,278.6 L1040.3,278.7 L1036.2,278.8 L1032.1,278.9 L1028.0,279.1 L1023.9,279.2 L1019.8,279.3 L1015.7,279.4 L1011.6,279.5 L1007.5,279.6 L1003.4,279.7 L999.3,279.8 L995.1,279.9 L991.0,280.0 L986.9,280.1 L982.8,280.2 L978.7,280.3 L974.6,280.4 L970.4,280.5 L966.3,280.6 L962.2,280.6 L958.1,280.7 L954.0,280.8 L949.9,280.9 L945.8,280.9 L941.6,281.0 L937.5,281.1 L933.4,281.1 L929.3,281.2 L925.2,281.3 L921.1,281.3 L916.9,281.4 L912.8,281.4 L908.7,281.5 L904.6,281.5 L900.5,281.5 L896.4,281.6 L892.3,281.6 L888.2,281.7 L884.1,281.7 L880.0,281.7 L875.9,281.8 L871.7,281.8 L867.6,281.8 L863.5,281.8 L859.5,281.8 L855.4,281.9 L851.3,281.9 L847.2,281.9 L843.1,281.9 L839.0,281.9 L834.9,281.9 L830.8,281.9 L826.7,281.9 L822.6,281.9 L818.6,281.9 L814.5,281.9 L810.4,281.9 L806.5,281.8" fill="none" stroke="#FFB59D" stroke-width="2.7"/>
<path d="M1225.0,267.2 L1222.4,267.4 L1218.5,267.6 L1214.7,267.8 L1210.8,268.1 L1206.9,268.3 L1203.0,268.5 L1199.1,268.7 L1195.2,269.0 L1191.3,269.2 L1187.4,269.4 L1183.5,269.6 L1179.6,269.8 L1175.7,270.0 L1171.7,270.2 L1167.8,270.4 L1163.9,270.6 L1159.9,270.8 L1156.0,271.0 L1152.1,271.2 L1148.1,271.4 L1144.2,271.6 L1140.2,271.8 L1136.3,272.0 L1132.3,272.1 L1128.3,272.3 L1124.4,272.5 L1120.4,272.7 L1116.4,272.8 L1112.5,273.0 L1108.5,273.2 L1104.5,273.3 L1100.5,273.5 L1096.5,273.7 L1092.5,273.8 L1088.6,274.0 L1084.6,274.1 L1080.6,274.3 L1076.6,274.4 L1072.6,274.6 L1068.6,274.7 L1064.6,274.9 L1060.6,275.0 L1056.6,275.1 L1052.6,275.3 L1048.5,275.4 L1044.5,275.5 L1040.5,275.7 L1036.5,275.8 L1032.5,275.9 L1028.5,276.0 L1024.5,276.1 L1020.4,276.3 L1016.4,276.4 L1012.4,276.5 L1008.4,276.6 L1004.3,276.7 L1000.3,276.8 L996.3,276.9 L992.3,277.0 L988.2,277.1 L984.2,277.2 L980.2,277.3 L976.2,277.3 L972.1,277.4 L968.1,277.5 L964.1,277.6 L960.0,277.7 L956.0,277.7 L952.0,277.8 L947.9,277.9 L943.9,278.0 L939.9,278.0 L935.9,278.1 L931.8,278.1 L927.8,278.2 L923.8,278.3 L919.7,278.3 L915.7,278.4 L911.7,278.4 L907.7,278.5 L903.6,278.5 L899.6,278.5 L895.6,278.6 L891.6,278.6 L887.5,278.6 L883.5,278.7 L879.5,278.7 L875.5,278.7 L871.5,278.8 L867.5,278.8 L863.5,278.8 L859.4,278.8 L855.4,278.8 L851.4,278.8 L847.4,278.8 L843.4,278.9 L839.4,278.9 L835.4,278.9 L831.4,278.9 L827.4,278.9 L823.4,278.8 L819.4,278.8 L815.4,278.8 L811.5,278.8 L807.5,278.8 L806.5,278.8" fill="none" stroke="#FFB097" stroke-width="2.7"/>
<path d="M1225.0,264.0 L1222.2,264.2 L1218.4,264.4 L1214.6,264.6 L1210.8,264.9 L1207.0,265.1 L1203.3,265.3 L1199.4,265.5 L1195.6,265.8 L1191.8,266.0 L1188.0,266.2 L1184.2,266.4 L1180.4,266.6 L1176.5,266.8 L1172.7,267.0 L1168.9,267.2 L1165.0,267.4 L1161.2,267.6 L1157.3,267.8 L1153.5,268.0 L1149.6,268.2 L1145.8,268.4 L1141.9,268.6 L1138.1,268.7 L1134.2,268.9 L1130.3,269.1 L1126.4,269.3 L1122.6,269.5 L1118.7,269.6 L1114.8,269.8 L1110.9,270.0 L1107.0,270.1 L1103.1,270.3 L1099.3,270.4 L1095.4,270.6 L1091.5,270.8 L1087.6,270.9 L1083.7,271.1 L1079.7,271.2 L1075.8,271.4 L1071.9,271.5 L1068.0,271.6 L1064.1,271.8 L1060.2,271.9 L1056.3,272.1 L1052.4,272.2 L1048.4,272.3 L1044.5,272.4 L1040.6,272.6 L1036.7,272.7 L1032.7,272.8 L1028.8,272.9 L1024.9,273.0 L1020.9,273.2 L1017.0,273.3 L1013.1,273.4 L1009.1,273.5 L1005.2,273.6 L1001.3,273.7 L997.3,273.8 L993.4,273.9 L989.5,274.0 L985.5,274.1 L981.6,274.2 L977.6,274.2 L973.7,274.3 L969.8,274.4 L965.8,274.5 L961.9,274.6 L957.9,274.6 L954.0,274.7 L950.1,274.8 L946.1,274.8 L942.2,274.9 L938.2,275.0 L934.3,275.0 L930.4,275.1 L926.4,275.1 L922.5,275.2 L918.5,275.3 L914.6,275.3 L910.7,275.3 L906.7,275.4 L902.8,275.4 L898.8,275.5 L894.9,275.5 L891.0,275.5 L887.0,275.6 L883.1,275.6 L879.2,275.6 L875.3,275.6 L871.3,275.7 L867.4,275.7 L863.5,275.7 L859.6,275.7 L855.6,275.7 L851.7,275.7 L847.8,275.7 L843.9,275.8 L840.0,275.8 L836.1,275.8 L832.2,275.8 L828.3,275.7 L824.3,275.7 L820.4,275.7 L816.5,275.7 L812.6,275.7 L808.7,275.7 L806.5,275.7" fill="none" stroke="#FFAB91" stroke-width="2.7"/>
<path d="M1225.0,260.7 L1221.6,260.9 L1217.9,261.2 L1214.2,261.4 L1210.5,261.6 L1206.8,261.8 L1203.1,262.1 L1199.4,262.3 L1195.7,262.5 L1192.0,262.7 L1188.2,262.9 L1184.5,263.1 L1180.8,263.3 L1177.0,263.5 L1173.3,263.7 L1169.6,263.9 L1165.8,264.1 L1162.1,264.3 L1158.3,264.5 L1154.6,264.7 L1150.8,264.9 L1147.0,265.1 L1143.3,265.3 L1139.5,265.5 L1135.7,265.6 L1131.9,265.8 L1128.2,266.0 L1124.4,266.2 L1120.6,266.3 L1116.8,266.5 L1113.0,266.7 L1109.2,266.8 L1105.4,267.0 L1101.6,267.2 L1097.8,267.3 L1094.0,267.5 L1090.2,267.6 L1086.4,267.8 L1082.6,267.9 L1078.8,268.1 L1075.0,268.2 L1071.1,268.4 L1067.3,268.5 L1063.5,268.6 L1059.7,268.8 L1055.8,268.9 L1052.0,269.0 L1048.2,269.2 L1044.4,269.3 L1040.5,269.4 L1036.7,269.5 L1032.9,269.6 L1029.0,269.8 L1025.2,269.9 L1021.3,270.0 L1017.5,270.1 L1013.7,270.2 L1009.8,270.3 L1006.0,270.4 L1002.1,270.5 L998.3,270.6 L994.4,270.7 L990.6,270.8 L986.7,270.9 L982.9,271.0 L979.0,271.1 L975.2,271.1 L971.3,271.2 L967.5,271.3 L963.6,271.4 L959.8,271.5 L955.9,271.5 L952.1,271.6 L948.2,271.7 L944.4,271.7 L940.5,271.8 L936.7,271.9 L932.8,271.9 L929.0,272.0 L925.1,272.0 L921.3,272.1 L917.4,272.1 L913.6,272.2 L909.7,272.2 L905.9,272.2 L902.0,272.3 L898.2,272.3 L894.4,272.4 L890.5,272.4 L886.7,272.4 L882.8,272.4 L879.0,272.5 L875.2,272.5 L871.3,272.5 L867.5,272.5 L863.7,272.5 L859.8,272.6 L856.0,272.6 L852.2,272.6 L848.3,272.6 L844.5,272.6 L840.7,272.6 L836.9,272.6 L833.1,272.6 L829.2,272.6 L825.4,272.6 L821.6,272.6 L817.8,272.5 L814.0,272.5 L810.2,272.5 L806.5,272.5" fill="none" stroke="#FFA68B" stroke-width="2.7"/>
<path d="M1225.0,257.3 L1222.3,257.5 L1218.7,257.7 L1215.1,258.0 L1211.5,258.2 L1207.9,258.4 L1204.3,258.6 L1200.7,258.9 L1197.1,259.1 L1193.5,259.3 L1189.9,259.5 L1186.2,259.7 L1182.6,259.9 L1179.0,260.1 L1175.3,260.3 L1171.7,260.5 L1168.0,260.7 L1164.4,260.9 L1160.7,261.1 L1157.1,261.3 L1153.4,261.5 L1149.7,261.7 L1146.1,261.8 L1142.4,262.0 L1138.7,262.2 L1135.0,262.4 L1131.4,262.6 L1127.7,262.7 L1124.0,262.9 L1120.3,263.1 L1116.6,263.2 L1112.9,263.4 L1109.2,263.6 L1105.5,263.7 L1101.8,263.9 L1098.1,264.0 L1094.4,264.2 L1090.7,264.3 L1086.9,264.5 L1083.2,264.6 L1079.5,264.8 L1075.8,264.9 L1072.1,265.1 L1068.3,265.2 L1064.6,265.3 L1060.9,265.5 L1057.1,265.6 L1053.4,265.7 L1049.7,265.9 L1045.9,266.0 L1042.2,266.1 L1038.4,266.2 L1034.7,266.4 L1031.0,266.5 L1027.2,266.6 L1023.5,266.7 L1019.7,266.8 L1016.0,266.9 L1012.2,267.0 L1008.5,267.1 L1004.7,267.2 L1001.0,267.3 L997.2,267.4 L993.5,267.5 L989.7,267.6 L985.9,267.7 L982.2,267.8 L978.4,267.8 L974.7,267.9 L970.9,268.0 L967.2,268.1 L963.4,268.2 L959.6,268.2 L955.9,268.3 L952.1,268.4 L948.4,268.4 L944.6,268.5 L940.9,268.6 L937.1,268.6 L933.3,268.7 L929.6,268.7 L925.8,268.8 L922.1,268.8 L918.3,268.9 L914.6,268.9 L910.8,269.0 L907.1,269.0 L903.3,269.0 L899.6,269.1 L895.8,269.1 L892.1,269.1 L888.3,269.2 L884.6,269.2 L880.8,269.2 L877.1,269.2 L873.3,269.3 L869.6,269.3 L865.8,269.3 L862.1,269.3 L858.4,269.3 L854.6,269.3 L850.9,269.3 L847.2,269.3 L843.4,269.3 L839.7,269.3 L836.0,269.3 L832.2,269.3 L828.5,269.3 L824.8,269.3 L821.1,269.3 L817.4,269.3 L813.7,269.3 L810.0,269.2 L806.5,269.2" fill="none" stroke="#FFA184" stroke-width="2.7"/>
<path d="M1225.0,253.9 L1222.5,254.0 L1219.0,254.3 L1215.5,254.5 L1212.0,254.7 L1208.5,254.9 L1205.0,255.1 L1201.5,255.4 L1198.0,255.6 L1194.5,255.8 L1191.0,256.0 L1187.4,256.2 L1183.9,256.4 L1180.4,256.6 L1176.8,256.8 L1173.3,257.0 L1169.7,257.2 L1166.2,257.4 L1162.6,257.6 L1159.1,257.8 L1155.5,258.0 L1151.9,258.2 L1148.4,258.3 L1144.8,258.5 L1141.2,258.7 L1137.6,258.9 L1134.1,259.1 L1130.5,259.2 L1126.9,259.4 L1123.3,259.6 L1119.7,259.7 L1116.1,259.9 L1112.5,260.1 L1108.9,260.2 L1105.3,260.4 L1101.7,260.5 L1098.1,260.7 L1094.4,260.8 L1090.8,261.0 L1087.2,261.1 L1083.6,261.3 L1080.0,261.4 L1076.3,261.6 L1072.7,261.7 L1069.1,261.9 L1065.4,262.0 L1061.8,262.1 L1058.2,262.2 L1054.5,262.4 L1050.9,262.5 L1047.3,262.6 L1043.6,262.7 L1040.0,262.9 L1036.3,263.0 L1032.7,263.1 L1029.0,263.2 L1025.4,263.3 L1021.7,263.4 L1018.1,263.5 L1014.4,263.6 L1010.8,263.7 L1007.1,263.8 L1003.4,263.9 L999.8,264.0 L996.1,264.1 L992.5,264.2 L988.8,264.3 L985.1,264.4 L981.5,264.5 L977.8,264.6 L974.2,264.6 L970.5,264.7 L966.8,264.8 L963.2,264.9 L959.5,264.9 L955.9,265.0 L952.2,265.1 L948.5,265.1 L944.9,265.2 L941.2,265.3 L937.5,265.3 L933.9,265.4 L930.2,265.4 L926.5,265.5 L922.9,265.5 L919.2,265.6 L915.6,265.6 L911.9,265.6 L908.3,265.7 L904.6,265.7 L900.9,265.8 L897.3,265.8 L893.6,265.8 L890.0,265.8 L886.3,265.9 L882.7,265.9 L879.0,265.9 L875.4,265.9 L871.7,266.0 L868.1,266.0 L864.4,266.0 L860.8,266.0 L857.1,266.0 L853.5,266.0 L849.9,266.0 L846.2,266.0 L842.6,266.0 L839.0,266.0 L835.3,266.0 L831.7,266.0 L828.1,266.0 L824.5,266.0 L820.8,266.0 L817.2,265.9 L813.6,265.9 L810.0,265.9 L806.5,265.9" fill="none" stroke="#FF9B7E" stroke-width="2.7"/>
<path d="M1225.0,250.3 L1222.2,250.5 L1218.8,250.7 L1215.4,250.9 L1212.0,251.2 L1208.6,251.4 L1205.2,251.6 L1201.8,251.8 L1198.4,252.0 L1194.9,252.2 L1191.5,252.4 L1188.1,252.6 L1184.7,252.8 L1181.2,253.0 L1177.8,253.2 L1174.3,253.4 L1170.9,253.6 L1167.4,253.8 L1164.0,254.0 L1160.5,254.2 L1157.1,254.4 L1153.6,254.6 L1150.1,254.8 L1146.7,255.0 L1143.2,255.1 L1139.7,255.3 L1136.2,255.5 L1132.7,255.7 L1129.3,255.8 L1125.8,256.0 L1122.3,256.2 L1118.8,256.3 L1115.3,256.5 L1111.8,256.6 L1108.3,256.8 L1104.8,257.0 L1101.3,257.1 L1097.7,257.3 L1094.2,257.4 L1090.7,257.6 L1087.2,257.7 L1083.7,257.9 L1080.1,258.0 L1076.6,258.1 L1073.1,258.3 L1069.5,258.4 L1066.0,258.5 L1062.5,258.7 L1058.9,258.8 L1055.4,258.9 L1051.9,259.1 L1048.3,259.2 L1044.8,259.3 L1041.2,259.4 L1037.7,259.5 L1034.1,259.6 L1030.6,259.8 L1027.0,259.9 L1023.5,260.0 L1019.9,260.1 L1016.4,260.2 L1012.8,260.3 L1009.3,260.4 L1005.7,260.5 L1002.1,260.6 L998.6,260.7 L995.0,260.8 L991.5,260.8 L987.9,260.9 L984.3,261.0 L980.8,261.1 L977.2,261.2 L973.6,261.3 L970.1,261.3 L966.5,261.4 L962.9,261.5 L959.4,261.5 L955.8,261.6 L952.2,261.7 L948.7,261.7 L945.1,261.8 L941.5,261.9 L938.0,261.9 L934.4,262.0 L930.9,262.0 L927.3,262.1 L923.7,262.1 L920.2,262.2 L916.6,262.2 L913.0,262.2 L909.5,262.3 L905.9,262.3 L902.4,262.3 L898.8,262.4 L895.2,262.4 L891.7,262.4 L888.1,262.5 L884.6,262.5 L881.0,262.5 L877.5,262.5 L873.9,262.5 L870.4,262.6 L866.8,262.6 L863.3,262.6 L859.7,262.6 L856.2,262.6 L852.7,262.6 L849.1,262.6 L845.6,262.6 L842.0,262.6 L838.5,262.6 L835.0,262.6 L831.4,262.6 L827.9,262.6 L824.4,262.5 L820.9,262.5 L817.4,262.5 L813.8,262.5 L810.3,262.5 L806.8,262.4 L806.5,262.4" fill="none" stroke="#FF9678" stroke-width="2.7"/>
<path d="M1225.0,246.6 L1221.2,246.9 L1217.9,247.1 L1214.6,247.3 L1211.3,247.5 L1208.0,247.8 L1204.7,248.0 L1201.4,248.2 L1198.1,248.4 L1194.8,248.6 L1191.5,248.8 L1188.2,249.0 L1184.8,249.2 L1181.5,249.4 L1178.2,249.6 L1174.8,249.8 L1171.5,250.0 L1168.1,250.2 L1164.8,250.4 L1161.4,250.6 L1158.1,250.8 L1154.7,250.9 L1151.4,251.1 L1148.0,251.3 L1144.6,251.5 L1141.3,251.7 L1137.9,251.8 L1134.5,252.0 L1131.1,252.2 L1127.7,252.3 L1124.3,252.5 L1120.9,252.7 L1117.5,252.8 L1114.2,253.0 L1110.7,253.1 L1107.3,253.3 L1103.9,253.5 L1100.5,253.6 L1097.1,253.8 L1093.7,253.9 L1090.3,254.1 L1086.9,254.2 L1083.4,254.3 L1080.0,254.5 L1076.6,254.6 L1073.2,254.7 L1069.7,254.9 L1066.3,255.0 L1062.9,255.1 L1059.4,255.3 L1056.0,255.4 L1052.6,255.5 L1049.1,255.6 L1045.7,255.8 L1042.2,255.9 L1038.8,256.0 L1035.3,256.1 L1031.9,256.2 L1028.4,256.3 L1025.0,256.4 L1021.5,256.5 L1018.1,256.6 L1014.6,256.7 L1011.2,256.8 L1007.7,256.9 L1004.2,257.0 L1000.8,257.1 L997.3,257.2 L993.9,257.3 L990.4,257.4 L986.9,257.5 L983.5,257.5 L980.0,257.6 L976.6,257.7 L973.1,257.8 L969.6,257.9 L966.2,257.9 L962.7,258.0 L959.2,258.1 L955.8,258.1 L952.3,258.2 L948.8,258.2 L945.4,258.3 L941.9,258.4 L938.4,258.4 L935.0,258.5 L931.5,258.5 L928.0,258.6 L924.6,258.6 L921.1,258.7 L917.7,258.7 L914.2,258.7 L910.7,258.8 L907.3,258.8 L903.8,258.8 L900.4,258.9 L896.9,258.9 L893.4,258.9 L890.0,258.9 L886.5,259.0 L883.1,259.0 L879.6,259.0 L876.2,259.0 L872.7,259.0 L869.3,259.1 L865.8,259.1 L862.4,259.1 L859.0,259.1 L855.5,259.1 L852.1,259.1 L848.6,259.1 L845.2,259.1 L841.8,259.1 L838.3,259.1 L834.9,259.0 L831.5,259.0 L828.1,259.0 L824.6,259.0 L821.2,259.0 L817.8,259.0 L814.4,258.9 L811.0,258.9 L807.5,258.9 L806.5,258.9" fill="none" stroke="#FF9172" stroke-width="2.7"/>
<path d="M1225.0,242.8 L1221.2,243.1 L1218.0,243.3 L1214.8,243.5 L1211.6,243.7 L1208.4,243.9 L1205.3,244.2 L1202.1,244.4 L1198.9,244.6 L1195.7,244.8 L1192.4,245.0 L1189.2,245.2 L1186.0,245.4 L1182.8,245.6 L1179.6,245.8 L1176.3,246.0 L1173.1,246.2 L1169.9,246.4 L1166.6,246.6 L1163.4,246.7 L1160.1,246.9 L1156.9,247.1 L1153.6,247.3 L1150.4,247.5 L1147.1,247.6 L1143.9,247.8 L1140.6,248.0 L1137.3,248.2 L1134.0,248.3 L1130.8,248.5 L1127.5,248.7 L1124.2,248.8 L1120.9,249.0 L1117.6,249.2 L1114.3,249.3 L1111.0,249.5 L1107.7,249.6 L1104.4,249.8 L1101.1,249.9 L1097.8,250.1 L1094.5,250.2 L1091.2,250.4 L1087.9,250.5 L1084.6,250.7 L1081.3,250.8 L1077.9,250.9 L1074.6,251.1 L1071.3,251.2 L1068.0,251.3 L1064.6,251.5 L1061.3,251.6 L1058.0,251.7 L1054.6,251.8 L1051.3,251.9 L1048.0,252.1 L1044.6,252.2 L1041.3,252.3 L1037.9,252.4 L1034.6,252.5 L1031.2,252.6 L1027.9,252.7 L1024.5,252.8 L1021.2,252.9 L1017.8,253.0 L1014.5,253.1 L1011.1,253.2 L1007.8,253.3 L1004.4,253.4 L1001.1,253.5 L997.7,253.6 L994.4,253.7 L991.0,253.8 L987.6,253.9 L984.3,253.9 L980.9,254.0 L977.6,254.1 L974.2,254.2 L970.8,254.2 L967.5,254.3 L964.1,254.4 L960.8,254.4 L957.4,254.5 L954.0,254.6 L950.7,254.6 L947.3,254.7 L944.0,254.7 L940.6,254.8 L937.2,254.8 L933.9,254.9 L930.5,254.9 L927.2,255.0 L923.8,255.0 L920.4,255.1 L917.1,255.1 L913.7,255.1 L910.4,255.2 L907.0,255.2 L903.6,255.2 L900.3,255.3 L896.9,255.3 L893.6,255.3 L890.2,255.3 L886.9,255.4 L883.5,255.4 L880.2,255.4 L876.8,255.4 L873.5,255.4 L870.2,255.4 L866.8,255.4 L863.5,255.5 L860.1,255.5 L856.8,255.5 L853.5,255.5 L850.1,255.5 L846.8,255.5 L843.5,255.4 L840.1,255.4 L836.8,255.4 L833.5,255.4 L830.2,255.4 L826.8,255.4 L823.5,255.4 L820.2,255.3 L816.9,255.3 L813.6,255.3 L810.3,255.3 L807.0,255.2 L806.5,255.2" fill="none" stroke="#FF8B6C" stroke-width="2.7"/>
<path d="M1225.0,238.9 L1221.9,239.1 L1218.8,239.3 L1215.8,239.5 L1212.7,239.7 L1209.6,240.0 L1206.6,240.2 L1203.5,240.4 L1200.4,240.6 L1197.3,240.8 L1194.2,241.0 L1191.1,241.2 L1188.0,241.4 L1184.9,241.6 L1181.8,241.8 L1178.7,242.0 L1175.6,242.2 L1172.4,242.4 L1169.3,242.5 L1166.2,242.7 L1163.0,242.9 L1159.9,243.1 L1156.8,243.3 L1153.6,243.5 L1150.5,243.6 L1147.3,243.8 L1144.2,244.0 L1141.0,244.2 L1137.8,244.3 L1134.7,244.5 L1131.5,244.7 L1128.3,244.8 L1125.2,245.0 L1122.0,245.2 L1118.8,245.3 L1115.6,245.5 L1112.4,245.6 L1109.3,245.8 L1106.1,245.9 L1102.9,246.1 L1099.7,246.2 L1096.5,246.4 L1093.3,246.5 L1090.1,246.7 L1086.9,246.8 L1083.7,246.9 L1080.4,247.1 L1077.2,247.2 L1074.0,247.3 L1070.8,247.5 L1067.6,247.6 L1064.4,247.7 L1061.1,247.8 L1057.9,248.0 L1054.7,248.1 L1051.4,248.2 L1048.2,248.3 L1045.0,248.4 L1041.8,248.6 L1038.5,248.7 L1035.3,248.8 L1032.0,248.9 L1028.8,249.0 L1025.6,249.1 L1022.3,249.2 L1019.1,249.3 L1015.8,249.4 L1012.6,249.5 L1009.3,249.6 L1006.1,249.7 L1002.8,249.8 L999.6,249.8 L996.3,249.9 L993.1,250.0 L989.8,250.1 L986.6,250.2 L983.3,250.2 L980.1,250.3 L976.8,250.4 L973.6,250.5 L970.3,250.5 L967.1,250.6 L963.8,250.7 L960.6,250.7 L957.3,250.8 L954.0,250.9 L950.8,250.9 L947.5,251.0 L944.3,251.0 L941.0,251.1 L937.8,251.1 L934.5,251.2 L931.3,251.2 L928.0,251.3 L924.8,251.3 L921.5,251.3 L918.3,251.4 L915.0,251.4 L911.8,251.5 L908.5,251.5 L905.3,251.5 L902.0,251.5 L898.8,251.6 L895.5,251.6 L892.3,251.6 L889.0,251.6 L885.8,251.7 L882.5,251.7 L879.3,251.7 L876.1,251.7 L872.8,251.7 L869.6,251.7 L866.3,251.7 L863.1,251.7 L859.9,251.7 L856.7,251.7 L853.4,251.7 L850.2,251.7 L847.0,251.7 L843.8,251.7 L840.5,251.7 L837.3,251.7 L834.1,251.7 L830.9,251.6 L827.7,251.6 L824.5,251.6 L821.2,251.6 L818.0,251.6 L814.8,251.5 L811.6,251.5 L808.4,251.5 L806.5,251.5" fill="none" stroke="#FF8666" stroke-width="2.7"/>
<path d="M1225.0,234.8 L1221.7,235.0 L1218.7,235.2 L1215.8,235.4 L1212.8,235.7 L1209.9,235.9 L1206.9,236.1 L1204.0,236.3 L1201.0,236.5 L1198.0,236.7 L1195.0,236.9 L1192.1,237.1 L1189.1,237.3 L1186.1,237.5 L1183.1,237.7 L1180.1,237.9 L1177.1,238.1 L1174.1,238.3 L1171.1,238.4 L1168.1,238.6 L1165.0,238.8 L1162.0,239.0 L1159.0,239.2 L1156.0,239.4 L1152.9,239.5 L1149.9,239.7 L1146.9,239.9 L1143.8,240.1 L1140.8,240.2 L1137.7,240.4 L1134.7,240.6 L1131.6,240.7 L1128.6,240.9 L1125.5,241.0 L1122.4,241.2 L1119.4,241.4 L1116.3,241.5 L1113.2,241.7 L1110.2,241.8 L1107.1,242.0 L1104.0,242.1 L1100.9,242.3 L1097.8,242.4 L1094.7,242.6 L1091.7,242.7 L1088.6,242.8 L1085.5,243.0 L1082.4,243.1 L1079.3,243.2 L1076.2,243.4 L1073.1,243.5 L1070.0,243.6 L1066.8,243.8 L1063.7,243.9 L1060.6,244.0 L1057.5,244.1 L1054.4,244.2 L1051.3,244.4 L1048.2,244.5 L1045.0,244.6 L1041.9,244.7 L1038.8,244.8 L1035.7,244.9 L1032.5,245.0 L1029.4,245.1 L1026.3,245.2 L1023.1,245.3 L1020.0,245.4 L1016.9,245.5 L1013.7,245.6 L1010.6,245.7 L1007.5,245.8 L1004.3,245.9 L1001.2,246.0 L998.1,246.0 L994.9,246.1 L991.8,246.2 L988.6,246.3 L985.5,246.4 L982.4,246.4 L979.2,246.5 L976.1,246.6 L972.9,246.7 L969.8,246.7 L966.6,246.8 L963.5,246.8 L960.3,246.9 L957.2,247.0 L954.1,247.0 L950.9,247.1 L947.8,247.1 L944.6,247.2 L941.5,247.2 L938.3,247.3 L935.2,247.3 L932.0,247.4 L928.9,247.4 L925.8,247.5 L922.6,247.5 L919.5,247.5 L916.3,247.6 L913.2,247.6 L910.1,247.6 L906.9,247.7 L903.8,247.7 L900.6,247.7 L897.5,247.7 L894.4,247.8 L891.2,247.8 L888.1,247.8 L885.0,247.8 L881.8,247.8 L878.7,247.8 L875.6,247.8 L872.5,247.9 L869.3,247.9 L866.2,247.9 L863.1,247.9 L860.0,247.9 L856.8,247.9 L853.7,247.9 L850.6,247.8 L847.5,247.8 L844.4,247.8 L841.3,247.8 L838.2,247.8 L835.1,247.8 L832.0,247.8 L828.9,247.8 L825.8,247.7 L822.7,247.7 L819.6,247.7 L816.5,247.7 L813.4,247.6 L810.3,247.6 L807.2,247.6 L806.5,247.6" fill="none" stroke="#FF8060" stroke-width="2.7"/>
<path d="M1225.0,230.5 L1221.8,230.7 L1219.0,231.0 L1216.2,231.2 L1213.4,231.4 L1210.5,231.6 L1207.7,231.8 L1204.9,232.0 L1202.0,232.2 L1199.2,232.4 L1196.3,232.6 L1193.5,232.8 L1190.6,233.0 L1187.7,233.2 L1184.9,233.4 L1182.0,233.6 L1179.1,233.8 L1176.2,234.0 L1173.3,234.1 L1170.4,234.3 L1167.5,234.5 L1164.6,234.7 L1161.7,234.9 L1158.8,235.1 L1155.9,235.2 L1153.0,235.4 L1150.1,235.6 L1147.2,235.7 L1144.3,235.9 L1141.3,236.1 L1138.4,236.3 L1135.5,236.4 L1132.5,236.6 L1129.6,236.7 L1126.7,236.9 L1123.7,237.1 L1120.8,237.2 L1117.8,237.4 L1114.9,237.5 L1111.9,237.7 L1108.9,237.8 L1106.0,238.0 L1103.0,238.1 L1100.0,238.3 L1097.1,238.4 L1094.1,238.5 L1091.1,238.7 L1088.2,238.8 L1085.2,238.9 L1082.2,239.1 L1079.2,239.2 L1076.2,239.3 L1073.2,239.5 L1070.2,239.6 L1067.3,239.7 L1064.3,239.8 L1061.3,240.0 L1058.3,240.1 L1055.3,240.2 L1052.3,240.3 L1049.3,240.4 L1046.3,240.5 L1043.2,240.6 L1040.2,240.8 L1037.2,240.9 L1034.2,241.0 L1031.2,241.1 L1028.2,241.2 L1025.2,241.3 L1022.2,241.4 L1019.1,241.5 L1016.1,241.5 L1013.1,241.6 L1010.1,241.7 L1007.1,241.8 L1004.0,241.9 L1001.0,242.0 L998.0,242.1 L995.0,242.1 L991.9,242.2 L988.9,242.3 L985.9,242.4 L982.9,242.5 L979.8,242.5 L976.8,242.6 L973.8,242.7 L970.7,242.7 L967.7,242.8 L964.7,242.9 L961.6,242.9 L958.6,243.0 L955.6,243.0 L952.6,243.1 L949.5,243.1 L946.5,243.2 L943.5,243.2 L940.4,243.3 L937.4,243.3 L934.4,243.4 L931.3,243.4 L928.3,243.5 L925.3,243.5 L922.3,243.5 L919.2,243.6 L916.2,243.6 L913.2,243.6 L910.2,243.7 L907.1,243.7 L904.1,243.7 L901.1,243.7 L898.1,243.7 L895.0,243.8 L892.0,243.8 L889.0,243.8 L886.0,243.8 L883.0,243.8 L879.9,243.8 L876.9,243.8 L873.9,243.9 L870.9,243.9 L867.9,243.9 L864.9,243.9 L861.9,243.9 L858.9,243.9 L855.9,243.9 L852.9,243.8 L849.9,243.8 L846.9,243.8 L843.9,243.8 L840.9,243.8 L837.9,243.8 L834.9,243.8 L831.9,243.7 L828.9,243.7 L825.9,243.7 L823.0,243.7 L820.0,243.6 L817.0,243.6 L814.0,243.6 L811.1,243.6 L808.1,243.5 L806.5,243.5" fill="none" stroke="#FF7B5A" stroke-width="2.7"/>
<path d="M1225.0,226.0 L1222.1,226.3 L1219.5,226.5 L1216.8,226.7 L1214.1,226.9 L1211.4,227.1 L1208.6,227.3 L1205.9,227.5 L1203.2,227.7 L1200.5,227.9 L1197.8,228.1 L1195.0,228.3 L1192.3,228.5 L1189.6,228.7 L1186.8,228.9 L1184.1,229.1 L1181.3,229.3 L1178.6,229.5 L1175.8,229.6 L1173.1,229.8 L1170.3,230.0 L1167.5,230.2 L1164.7,230.4 L1162.0,230.5 L1159.2,230.7 L1156.4,230.9 L1153.6,231.1 L1150.8,231.2 L1148.0,231.4 L1145.2,231.6 L1142.4,231.7 L1139.6,231.9 L1136.8,232.1 L1134.0,232.2 L1131.2,232.4 L1128.4,232.6 L1125.6,232.7 L1122.7,232.9 L1119.9,233.0 L1117.1,233.2 L1114.2,233.3 L1111.4,233.5 L1108.6,233.6 L1105.7,233.8 L1102.9,233.9 L1100.0,234.0 L1097.2,234.2 L1094.3,234.3 L1091.5,234.5 L1088.6,234.6 L1085.8,234.7 L1082.9,234.9 L1080.0,235.0 L1077.2,235.1 L1074.3,235.2 L1071.4,235.4 L1068.6,235.5 L1065.7,235.6 L1062.8,235.7 L1060.0,235.8 L1057.1,236.0 L1054.2,236.1 L1051.3,236.2 L1048.4,236.3 L1045.5,236.4 L1042.7,236.5 L1039.8,236.6 L1036.9,236.7 L1034.0,236.8 L1031.1,236.9 L1028.2,237.0 L1025.3,237.1 L1022.4,237.2 L1019.5,237.3 L1016.6,237.4 L1013.7,237.5 L1010.8,237.6 L1007.9,237.7 L1005.0,237.7 L1002.1,237.8 L999.2,237.9 L996.3,238.0 L993.4,238.1 L990.5,238.1 L987.6,238.2 L984.6,238.3 L981.7,238.3 L978.8,238.4 L975.9,238.5 L973.0,238.5 L970.1,238.6 L967.2,238.7 L964.3,238.7 L961.4,238.8 L958.4,238.8 L955.5,238.9 L952.6,239.0 L949.7,239.0 L946.8,239.1 L943.9,239.1 L941.0,239.1 L938.1,239.2 L935.2,239.2 L932.2,239.3 L929.3,239.3 L926.4,239.3 L923.5,239.4 L920.6,239.4 L917.7,239.4 L914.8,239.5 L911.9,239.5 L909.0,239.5 L906.1,239.6 L903.2,239.6 L900.3,239.6 L897.4,239.6 L894.5,239.6 L891.6,239.6 L888.7,239.7 L885.8,239.7 L882.9,239.7 L880.0,239.7 L877.1,239.7 L874.2,239.7 L871.3,239.7 L868.4,239.7 L865.5,239.7 L862.6,239.7 L859.7,239.7 L856.8,239.7 L854.0,239.7 L851.1,239.7 L848.2,239.7 L845.3,239.6 L842.5,239.6 L839.6,239.6 L836.7,239.6 L833.8,239.6 L831.0,239.6 L828.1,239.5 L825.2,239.5 L822.4,239.5 L819.5,239.4 L816.7,239.4 L813.8,239.4 L811.0,239.3 L808.1,239.3 L806.5,239.3" fill="none" stroke="#FF7554" stroke-width="2.7"/>
<path d="M1225.0,221.4 L1222.3,221.6 L1219.7,221.8 L1217.2,222.0 L1214.6,222.2 L1212.0,222.4 L1209.5,222.6 L1206.9,222.8 L1204.3,223.0 L1201.7,223.2 L1199.1,223.4 L1196.5,223.6 L1193.9,223.8 L1191.3,224.0 L1188.7,224.2 L1186.1,224.4 L1183.5,224.6 L1180.9,224.7 L1178.3,224.9 L1175.6,225.1 L1173.0,225.3 L1170.4,225.5 L1167.7,225.6 L1165.1,225.8 L1162.4,226.0 L1159.8,226.2 L1157.1,226.3 L1154.5,226.5 L1151.8,226.7 L1149.1,226.9 L1146.5,227.0 L1143.8,227.2 L1141.1,227.3 L1138.5,227.5 L1135.8,227.7 L1133.1,227.8 L1130.4,228.0 L1127.7,228.1 L1125.0,228.3 L1122.3,228.4 L1119.6,228.6 L1116.9,228.7 L1114.2,228.9 L1111.5,229.0 L1108.8,229.2 L1106.1,229.3 L1103.4,229.5 L1100.7,229.6 L1097.9,229.7 L1095.2,229.9 L1092.5,230.0 L1089.8,230.1 L1087.0,230.3 L1084.3,230.4 L1081.6,230.5 L1078.8,230.7 L1076.1,230.8 L1073.3,230.9 L1070.6,231.0 L1067.8,231.1 L1065.1,231.3 L1062.3,231.4 L1059.6,231.5 L1056.8,231.6 L1054.1,231.7 L1051.3,231.8 L1048.6,231.9 L1045.8,232.0 L1043.0,232.2 L1040.3,232.3 L1037.5,232.4 L1034.7,232.5 L1032.0,232.6 L1029.2,232.7 L1026.4,232.7 L1023.7,232.8 L1020.9,232.9 L1018.1,233.0 L1015.3,233.1 L1012.6,233.2 L1009.8,233.3 L1007.0,233.4 L1004.2,233.4 L1001.4,233.5 L998.7,233.6 L995.9,233.7 L993.1,233.8 L990.3,233.8 L987.5,233.9 L984.7,234.0 L982.0,234.0 L979.2,234.1 L976.4,234.2 L973.6,234.2 L970.8,234.3 L968.0,234.4 L965.2,234.4 L962.4,234.5 L959.7,234.5 L956.9,234.6 L954.1,234.6 L951.3,234.7 L948.5,234.7 L945.7,234.8 L942.9,234.8 L940.1,234.9 L937.4,234.9 L934.6,234.9 L931.8,235.0 L929.0,235.0 L926.2,235.0 L923.4,235.1 L920.6,235.1 L917.9,235.1 L915.1,235.2 L912.3,235.2 L909.5,235.2 L906.7,235.2 L903.9,235.3 L901.2,235.3 L898.4,235.3 L895.6,235.3 L892.8,235.3 L890.1,235.3 L887.3,235.3 L884.5,235.4 L881.7,235.4 L879.0,235.4 L876.2,235.4 L873.4,235.4 L870.7,235.4 L867.9,235.4 L865.1,235.4 L862.4,235.4 L859.6,235.4 L856.9,235.3 L854.1,235.3 L851.3,235.3 L848.6,235.3 L845.8,235.3 L843.1,235.3 L840.3,235.3 L837.6,235.2 L834.8,235.2 L832.1,235.2 L829.4,235.2 L826.6,235.1 L823.9,235.1 L821.2,235.1 L818.4,235.0 L815.7,235.0 L813.0,235.0 L810.3,234.9 L807.5,234.9 L806.5,234.9" fill="none" stroke="#FF6F4E" stroke-width="2.7"/>
<path d="M1225.0,216.4 L1221.9,216.7 L1218.3,217.0 L1214.7,217.3 L1211.1,217.6 L1207.4,217.9 L1203.7,218.2 L1201.3,218.4 L1198.8,218.6 L1196.4,218.8 L1193.9,218.9 L1191.5,219.1 L1189.0,219.3 L1186.5,219.5 L1184.0,219.7 L1181.6,219.9 L1179.1,220.1 L1176.6,220.2 L1174.1,220.4 L1171.6,220.6 L1169.1,220.8 L1166.6,221.0 L1164.1,221.1 L1161.6,221.3 L1159.1,221.5 L1156.5,221.6 L1154.0,221.8 L1151.5,222.0 L1149.0,222.1 L1146.4,222.3 L1143.9,222.5 L1141.4,222.6 L1138.8,222.8 L1136.3,222.9 L1133.7,223.1 L1131.2,223.3 L1128.6,223.4 L1126.1,223.6 L1123.5,223.7 L1120.9,223.9 L1118.4,224.0 L1115.8,224.2 L1113.2,224.3 L1110.7,224.4 L1108.1,224.6 L1105.5,224.7 L1102.9,224.9 L1100.3,225.0 L1097.7,225.1 L1095.1,225.3 L1092.6,225.4 L1090.0,225.5 L1087.4,225.7 L1084.8,225.8 L1082.2,225.9 L1079.6,226.0 L1076.9,226.2 L1074.3,226.3 L1071.7,226.4 L1069.1,226.5 L1066.5,226.6 L1063.9,226.8 L1061.3,226.9 L1058.6,227.0 L1056.0,227.1 L1053.4,227.2 L1050.8,227.3 L1048.1,227.4 L1045.5,227.5 L1042.9,227.6 L1040.2,227.7 L1037.6,227.8 L1035.0,227.9 L1032.3,228.0 L1029.7,228.1 L1027.0,228.2 L1024.4,228.3 L1021.8,228.4 L1019.1,228.5 L1016.5,228.6 L1013.8,228.6 L1011.2,228.7 L1008.5,228.8 L1005.9,228.9 L1003.2,229.0 L1000.6,229.0 L997.9,229.1 L995.3,229.2 L992.6,229.3 L990.0,229.3 L987.3,229.4 L984.7,229.5 L982.0,229.5 L979.3,229.6 L976.7,229.7 L974.0,229.7 L971.4,229.8 L968.7,229.8 L966.1,229.9 L963.4,229.9 L960.7,230.0 L958.1,230.1 L955.4,230.1 L952.8,230.1 L950.1,230.2 L947.4,230.2 L944.8,230.3 L942.1,230.3 L939.5,230.4 L936.8,230.4 L934.2,230.4 L931.5,230.5 L928.8,230.5 L926.2,230.5 L923.5,230.6 L920.9,230.6 L918.2,230.6 L915.6,230.6 L912.9,230.7 L910.3,230.7 L907.6,230.7 L905.0,230.7 L902.3,230.8 L899.7,230.8 L897.0,230.8 L894.4,230.8 L891.7,230.8 L889.1,230.8 L886.4,230.8 L883.8,230.8 L881.1,230.8 L878.5,230.8 L875.9,230.8 L873.2,230.8 L870.6,230.8 L868.0,230.8 L865.3,230.8 L862.7,230.8 L860.1,230.8 L857.4,230.8 L854.8,230.8 L852.2,230.8 L849.6,230.7 L846.9,230.7 L844.3,230.7 L841.7,230.7 L839.1,230.7 L836.5,230.6 L833.9,230.6 L831.3,230.6 L828.6,230.6 L826.0,230.5 L823.4,230.5 L820.8,230.5 L818.2,230.4 L815.6,230.4 L813.1,230.4 L810.5,230.3 L807.9,230.3 L806.5,230.3" fill="none" stroke="#FF6948" stroke-width="2.7"/>
<path d="M806.5,50.6 L809.6,50.4 L812.2,50.3 L814.7,50.1 L817.3,50.0 L819.9,49.9 L822.5,49.7 L825.1,49.6 L827.7,49.5 L829.5,49.4" fill="none" stroke="#FF6948" stroke-width="2.7"/>
<path d="M1225.0,211.1 L1221.9,211.4 L1218.5,211.7 L1215.1,212.0 L1211.7,212.3 L1208.2,212.6 L1204.8,212.9 L1201.4,213.2 L1197.9,213.5 L1194.4,213.8 L1191.0,214.1 L1187.5,214.3 L1184.0,214.6 L1180.5,214.9 L1177.0,215.1 L1173.4,215.4 L1169.9,215.7 L1166.4,215.9 L1162.8,216.2 L1159.3,216.4 L1155.7,216.7 L1152.2,216.9 L1148.6,217.2 L1145.0,217.4 L1141.4,217.7 L1137.8,217.9 L1134.2,218.1 L1130.6,218.4 L1127.0,218.6 L1123.3,218.8 L1119.7,219.0 L1116.1,219.2 L1112.4,219.5 L1108.8,219.7 L1105.1,219.9 L1101.4,220.1 L1099.0,220.2 L1096.5,220.3 L1094.1,220.5 L1091.6,220.6 L1089.2,220.7 L1086.7,220.8 L1084.2,221.0 L1081.8,221.1 L1079.3,221.2 L1076.8,221.3 L1074.4,221.5 L1071.9,221.6 L1069.4,221.7 L1066.9,221.8 L1064.5,221.9 L1062.0,222.0 L1059.5,222.1 L1057.0,222.2 L1054.5,222.4 L1052.0,222.5 L1049.6,222.6 L1047.1,222.7 L1044.6,222.8 L1042.1,222.9 L1039.6,223.0 L1037.1,223.1 L1034.6,223.2 L1032.1,223.2 L1029.6,223.3 L1027.1,223.4 L1024.6,223.5 L1022.1,223.6 L1019.6,223.7 L1017.1,223.8 L1014.5,223.9 L1012.0,223.9 L1009.5,224.0 L1007.0,224.1 L1004.5,224.2 L1002.0,224.3 L999.5,224.3 L997.0,224.4 L994.4,224.5 L991.9,224.5 L989.4,224.6 L986.9,224.7 L984.4,224.7 L981.8,224.8 L979.3,224.9 L976.8,224.9 L974.3,225.0 L971.8,225.0 L969.2,225.1 L966.7,225.1 L964.2,225.2 L961.7,225.2 L959.2,225.3 L956.6,225.3 L954.1,225.4 L951.6,225.4 L949.1,225.5 L946.5,225.5 L944.0,225.6 L941.5,225.6 L939.0,225.6 L936.5,225.7 L933.9,225.7 L931.4,225.7 L928.9,225.8 L926.4,225.8 L923.9,225.8 L921.3,225.9 L918.8,225.9 L916.3,225.9 L913.8,225.9 L911.3,225.9 L908.7,226.0 L906.2,226.0 L903.7,226.0 L901.2,226.0 L898.7,226.0 L896.2,226.0 L893.7,226.0 L891.2,226.0 L888.7,226.1 L886.1,226.1 L883.6,226.1 L881.1,226.1 L878.6,226.1 L876.1,226.1 L873.6,226.1 L871.1,226.1 L868.6,226.0 L866.1,226.0 L863.6,226.0 L861.2,226.0 L858.7,226.0 L856.2,226.0 L853.7,226.0 L851.2,226.0 L848.7,225.9 L846.2,225.9 L843.8,225.9 L841.3,225.9 L838.8,225.8 L836.3,225.8 L833.8,225.8 L831.4,225.8 L828.9,225.7 L826.4,225.7 L824.0,225.7 L821.5,225.6 L819.1,225.6 L816.6,225.6 L814.1,225.5 L811.7,225.5 L809.2,225.4 L806.5,225.4" fill="none" stroke="#FF6342" stroke-width="2.7"/>
<path d="M1034.3,49.4 L1037.5,49.4 L1040.0,49.4 L1042.5,49.4 L1045.0,49.4 L1047.4,49.4 L1049.9,49.5 L1052.4,49.5 L1054.9,49.5 L1057.4,49.5 L1059.9,49.5 L1062.4,49.5 L1064.8,49.6 L1067.3,49.6 L1069.8,49.6 L1072.3,49.6 L1074.8,49.7 L1077.2,49.7 L1079.7,49.7 L1082.2,49.8 L1084.6,49.8 L1087.1,49.8 L1089.5,49.9 L1092.0,49.9 L1094.5,49.9 L1096.9,50.0 L1099.4,50.0 L1103.0,50.1 L1106.7,50.2 L1110.3,50.2 L1114.0,50.3 L1117.6,50.4 L1121.3,50.5 L1124.9,50.6 L1128.5,50.7 L1132.2,50.8 L1135.8,50.9 L1139.4,51.0 L1143.0,51.1 L1146.6,51.2 L1150.1,51.3 L1153.7,51.4 L1157.3,51.5 L1160.8,51.7 L1164.4,51.8 L1167.9,51.9 L1171.5,52.0 L1175.0,52.2 L1178.5,52.3 L1182.0,52.5 L1185.5,52.6 L1189.0,52.8 L1192.5,52.9 L1195.9,53.1 L1199.4,53.2 L1202.9,53.4 L1206.3,53.6 L1209.7,53.7 L1213.2,53.9 L1216.6,54.1 L1220.0,54.3 L1223.4,54.4 L1225.0,54.5" fill="none" stroke="#FF6342" stroke-width="2.7"/>
<path d="M806.5,55.4 L809.6,55.3 L812.1,55.1 L814.5,55.0 L817.0,54.9 L819.4,54.7 L821.9,54.6 L824.4,54.5 L826.8,54.4 L829.3,54.2 L831.8,54.1 L834.2,54.0 L836.7,53.9 L839.2,53.8 L841.7,53.7 L844.1,53.5 L846.6,53.4 L849.1,53.3 L851.6,53.2 L854.1,53.1 L856.6,53.0 L859.0,52.9 L861.5,52.8 L864.0,52.7 L866.5,52.6 L869.0,52.5 L871.5,52.4 L874.0,52.3 L876.5,52.2 L879.0,52.1 L881.5,52.0 L884.0,51.9 L886.5,51.9 L889.0,51.8 L891.5,51.7 L894.1,51.6 L896.6,51.5 L899.1,51.4 L901.6,51.4 L904.1,51.3 L906.6,51.2 L909.1,51.1 L911.6,51.1 L914.2,51.0 L916.7,50.9 L919.2,50.9 L921.7,50.8 L924.2,50.7 L926.8,50.7 L929.3,50.6 L931.8,50.5 L934.3,50.5 L936.8,50.4 L939.4,50.4 L941.9,50.3 L944.4,50.3 L946.9,50.2 L949.4,50.2 L952.0,50.1 L954.5,50.1 L957.0,50.0 L959.5,50.0 L962.1,49.9 L964.6,49.9 L967.1,49.9 L969.6,49.8 L972.1,49.8 L974.7,49.8 L977.2,49.7 L979.7,49.7 L982.2,49.7 L984.8,49.6 L987.3,49.6 L989.8,49.6 L992.3,49.6 L994.8,49.5 L997.3,49.5 L999.9,49.5 L1002.4,49.5 L1004.9,49.5 L1007.4,49.5 L1009.9,49.4 L1012.4,49.4 L1014.9,49.4 L1017.4,49.4 L1019.9,49.4 L1022.5,49.4 L1022.8,49.4" fill="none" stroke="#FF6342" stroke-width="2.7"/>
<path d="M1225.0,205.5 L1222.5,205.7 L1219.3,206.0 L1216.1,206.3 L1213.0,206.6 L1209.8,206.9 L1206.6,207.2 L1203.4,207.5 L1200.2,207.8 L1197.0,208.1 L1193.7,208.3 L1190.5,208.6 L1187.3,208.9 L1184.0,209.2 L1180.7,209.4 L1177.5,209.7 L1174.2,210.0 L1170.9,210.2 L1167.6,210.5 L1164.3,210.7 L1160.9,211.0 L1157.6,211.2 L1154.3,211.5 L1150.9,211.7 L1147.6,212.0 L1144.2,212.2 L1140.9,212.4 L1137.5,212.7 L1134.1,212.9 L1130.7,213.1 L1127.3,213.3 L1123.9,213.5 L1120.5,213.8 L1117.1,214.0 L1113.7,214.2 L1110.3,214.4 L1106.8,214.6 L1103.4,214.8 L1099.9,215.0 L1096.5,215.2 L1093.0,215.4 L1089.6,215.6 L1086.1,215.7 L1082.6,215.9 L1079.1,216.1 L1075.7,216.3 L1072.2,216.5 L1068.7,216.6 L1065.2,216.8 L1061.7,217.0 L1058.2,217.1 L1054.7,217.3 L1051.2,217.4 L1047.6,217.6 L1044.1,217.7 L1040.6,217.9 L1037.1,218.0 L1033.5,218.1 L1030.0,218.3 L1026.5,218.4 L1022.9,218.5 L1019.4,218.7 L1015.8,218.8 L1012.3,218.9 L1008.7,219.0 L1005.2,219.1 L1001.6,219.2 L998.1,219.3 L994.5,219.4 L991.0,219.5 L987.4,219.6 L983.8,219.7 L980.3,219.8 L976.7,219.9 L973.1,220.0 L969.6,220.1 L966.0,220.2 L962.4,220.2 L958.9,220.3 L955.3,220.4 L951.7,220.4 L948.2,220.5 L944.6,220.5 L941.0,220.6 L937.5,220.7 L933.9,220.7 L930.3,220.7 L926.8,220.8 L923.2,220.8 L919.7,220.9 L916.1,220.9 L912.5,220.9 L909.0,220.9 L905.4,221.0 L901.9,221.0 L898.3,221.0 L894.8,221.0 L891.2,221.0 L887.7,221.0 L884.1,221.0 L880.6,221.0 L877.1,221.0 L873.5,221.0 L870.0,221.0 L866.5,221.0 L862.9,221.0 L859.4,220.9 L855.9,220.9 L852.4,220.9 L848.9,220.9 L845.4,220.8 L841.9,220.8 L838.4,220.7 L834.9,220.7 L831.4,220.6 L827.9,220.6 L824.5,220.5 L821.0,220.5 L817.5,220.4 L814.1,220.4 L810.6,220.3 L807.2,220.2 L806.5,220.2" fill="none" stroke="#FF5C3C" stroke-width="2.7"/>
<path d="M806.5,60.6 L809.8,60.4 L813.3,60.2 L816.7,60.0 L820.2,59.8 L823.7,59.7 L827.1,59.5 L830.6,59.3 L834.1,59.1 L837.6,58.9 L841.1,58.8 L844.6,58.6 L848.1,58.5 L851.6,58.3 L855.1,58.1 L858.6,58.0 L862.1,57.8 L865.7,57.7 L869.2,57.5 L872.7,57.4 L876.2,57.3 L879.8,57.1 L883.3,57.0 L886.9,56.9 L890.4,56.8 L893.9,56.6 L897.5,56.5 L901.0,56.4 L904.6,56.3 L908.2,56.2 L911.7,56.1 L915.3,56.0 L918.8,55.9 L922.4,55.8 L926.0,55.7 L929.5,55.6 L933.1,55.5 L936.6,55.4 L940.2,55.4 L943.8,55.3 L947.3,55.2 L950.9,55.1 L954.5,55.1 L958.1,55.0 L961.6,54.9 L965.2,54.9 L968.8,54.8 L972.3,54.8 L975.9,54.7 L979.4,54.7 L983.0,54.7 L986.6,54.6 L990.1,54.6 L993.7,54.6 L997.3,54.5 L1000.8,54.5 L1004.4,54.5 L1007.9,54.5 L1011.5,54.5 L1015.0,54.4 L1018.6,54.4 L1022.1,54.4 L1025.6,54.4 L1029.2,54.4 L1032.7,54.4 L1036.3,54.5 L1039.8,54.5 L1043.3,54.5 L1046.8,54.5 L1050.3,54.5 L1053.9,54.6 L1057.4,54.6 L1060.9,54.6 L1064.4,54.7 L1067.9,54.7 L1071.4,54.7 L1074.9,54.8 L1078.3,54.8 L1081.8,54.9 L1085.3,54.9 L1088.8,55.0 L1092.2,55.1 L1095.7,55.1 L1099.1,55.2 L1102.6,55.3 L1106.0,55.3 L1109.5,55.4 L1112.9,55.5 L1116.3,55.6 L1119.7,55.7 L1123.1,55.8 L1126.5,55.9 L1129.9,55.9 L1133.3,56.1 L1136.7,56.2 L1140.1,56.3 L1143.5,56.4 L1146.8,56.5 L1150.2,56.6 L1153.5,56.7 L1156.8,56.8 L1160.2,57.0 L1163.5,57.1 L1166.8,57.2 L1170.1,57.4 L1173.4,57.5 L1176.7,57.7 L1180.0,57.8 L1183.2,57.9 L1186.5,58.1 L1189.8,58.3 L1193.0,58.4 L1196.2,58.6 L1199.5,58.7 L1202.7,58.9 L1205.9,59.1 L1209.1,59.3 L1212.2,59.4 L1215.4,59.6 L1218.6,59.8 L1221.7,60.0 L1224.9,60.2 L1225.0,60.2" fill="none" stroke="#FF5C3C" stroke-width="2.7"/>
<path d="M1225.0,199.4 L1221.7,199.7 L1218.8,200.0 L1215.9,200.3 L1213.0,200.6 L1210.1,200.9 L1207.1,201.2 L1204.2,201.4 L1201.2,201.7 L1198.3,202.0 L1195.3,202.3 L1192.3,202.6 L1189.3,202.8 L1186.4,203.1 L1183.3,203.4 L1180.3,203.6 L1177.3,203.9 L1174.3,204.1 L1171.2,204.4 L1168.2,204.6 L1165.1,204.9 L1162.0,205.1 L1159.0,205.4 L1155.9,205.6 L1152.8,205.9 L1149.7,206.1 L1146.6,206.3 L1143.5,206.6 L1140.4,206.8 L1137.2,207.0 L1134.1,207.2 L1130.9,207.5 L1127.8,207.7 L1124.6,207.9 L1121.5,208.1 L1118.3,208.3 L1115.1,208.5 L1111.9,208.7 L1108.7,208.9 L1105.5,209.1 L1102.3,209.3 L1099.1,209.5 L1095.9,209.7 L1092.7,209.9 L1089.5,210.1 L1086.2,210.2 L1083.0,210.4 L1079.8,210.6 L1076.5,210.8 L1073.3,210.9 L1070.0,211.1 L1066.8,211.3 L1063.5,211.4 L1060.2,211.6 L1056.9,211.7 L1053.7,211.9 L1050.4,212.0 L1047.1,212.2 L1043.8,212.3 L1040.5,212.5 L1037.2,212.6 L1033.9,212.7 L1030.6,212.9 L1027.3,213.0 L1024.0,213.1 L1020.7,213.3 L1017.4,213.4 L1014.1,213.5 L1010.8,213.6 L1007.4,213.7 L1004.1,213.8 L1000.8,213.9 L997.5,214.0 L994.1,214.1 L990.8,214.2 L987.5,214.3 L984.2,214.4 L980.8,214.5 L977.5,214.6 L974.2,214.6 L970.8,214.7 L967.5,214.8 L964.1,214.9 L960.8,214.9 L957.5,215.0 L954.1,215.1 L950.8,215.1 L947.5,215.2 L944.1,215.2 L940.8,215.3 L937.4,215.3 L934.1,215.4 L930.8,215.4 L927.4,215.4 L924.1,215.5 L920.8,215.5 L917.4,215.5 L914.1,215.6 L910.8,215.6 L907.5,215.6 L904.1,215.6 L900.8,215.6 L897.5,215.6 L894.2,215.6 L890.9,215.7 L887.6,215.7 L884.2,215.7 L880.9,215.6 L877.6,215.6 L874.3,215.6 L871.0,215.6 L867.7,215.6 L864.4,215.6 L861.2,215.5 L857.9,215.5 L854.6,215.5 L851.3,215.5 L848.0,215.4 L844.8,215.4 L841.5,215.3 L838.3,215.3 L835.0,215.2 L831.7,215.2 L828.5,215.1 L825.3,215.1 L822.0,215.0 L818.8,215.0 L815.6,214.9 L812.4,214.8 L809.1,214.7 L806.5,214.7" fill="none" stroke="#FF5636" stroke-width="2.7"/>
<path d="M806.5,66.1 L809.5,65.9 L812.7,65.8 L815.9,65.6 L819.1,65.4 L822.4,65.2 L825.6,65.0 L828.8,64.9 L832.1,64.7 L835.3,64.5 L838.6,64.4 L841.8,64.2 L845.1,64.0 L848.4,63.9 L851.7,63.7 L854.9,63.6 L858.2,63.4 L861.5,63.3 L864.8,63.1 L868.1,63.0 L871.4,62.8 L874.7,62.7 L878.0,62.6 L881.3,62.5 L884.6,62.3 L887.9,62.2 L891.2,62.1 L894.5,62.0 L897.8,61.9 L901.2,61.7 L904.5,61.6 L907.8,61.5 L911.1,61.4 L914.5,61.3 L917.8,61.2 L921.1,61.2 L924.4,61.1 L927.8,61.0 L931.1,60.9 L934.4,60.8 L937.8,60.7 L941.1,60.7 L944.5,60.6 L947.8,60.5 L951.1,60.5 L954.5,60.4 L957.8,60.3 L961.1,60.3 L964.5,60.2 L967.8,60.2 L971.2,60.1 L974.5,60.1 L977.8,60.1 L981.2,60.0 L984.5,60.0 L987.8,59.9 L991.2,59.9 L994.5,59.9 L997.8,59.9 L1001.1,59.9 L1004.5,59.8 L1007.8,59.8 L1011.1,59.8 L1014.4,59.8 L1017.7,59.8 L1021.0,59.8 L1024.4,59.8 L1027.7,59.8 L1031.0,59.8 L1034.3,59.8 L1037.6,59.8 L1040.9,59.9 L1044.2,59.9 L1047.4,59.9 L1050.7,59.9 L1054.0,60.0 L1057.3,60.0 L1060.6,60.0 L1063.8,60.1 L1067.1,60.1 L1070.3,60.2 L1073.6,60.2 L1076.9,60.3 L1080.1,60.3 L1083.3,60.4 L1086.6,60.4 L1089.8,60.5 L1093.0,60.6 L1096.2,60.6 L1099.5,60.7 L1102.7,60.8 L1105.9,60.9 L1109.1,61.0 L1112.3,61.0 L1115.4,61.1 L1118.6,61.2 L1121.8,61.3 L1125.0,61.4 L1128.1,61.5 L1131.3,61.6 L1134.4,61.7 L1137.5,61.8 L1140.7,61.9 L1143.8,62.1 L1146.9,62.2 L1150.0,62.3 L1153.1,62.4 L1156.2,62.6 L1159.3,62.7 L1162.4,62.8 L1165.4,63.0 L1168.5,63.1 L1171.5,63.2 L1174.6,63.4 L1177.6,63.5 L1180.6,63.7 L1183.7,63.8 L1186.7,64.0 L1189.7,64.1 L1192.6,64.3 L1195.6,64.5 L1198.6,64.6 L1201.5,64.8 L1204.5,65.0 L1207.4,65.2 L1210.4,65.3 L1213.3,65.5 L1216.2,65.7 L1219.1,65.9 L1222.0,66.1 L1224.9,66.3 L1225.0,66.3" fill="none" stroke="#FF5636" stroke-width="2.7"/>
<path d="M1225.0,192.6 L1222.1,193.0 L1219.5,193.2 L1216.9,193.5 L1214.3,193.8 L1211.6,194.1 L1209.0,194.4 L1206.3,194.7 L1203.7,194.9 L1201.0,195.2 L1198.3,195.5 L1195.6,195.8 L1192.9,196.0 L1190.2,196.3 L1187.5,196.6 L1184.8,196.8 L1182.1,197.1 L1179.3,197.3 L1176.6,197.6 L1173.8,197.8 L1171.0,198.1 L1168.3,198.3 L1165.5,198.6 L1162.7,198.8 L1159.9,199.1 L1157.1,199.3 L1154.2,199.5 L1151.4,199.8 L1148.6,200.0 L1145.7,200.2 L1142.9,200.5 L1140.0,200.7 L1137.2,200.9 L1134.3,201.1 L1131.4,201.3 L1128.5,201.5 L1125.6,201.8 L1122.7,202.0 L1119.8,202.2 L1116.9,202.4 L1114.0,202.6 L1111.1,202.8 L1108.1,203.0 L1105.2,203.2 L1102.2,203.3 L1099.3,203.5 L1096.3,203.7 L1093.4,203.9 L1090.4,204.1 L1087.4,204.3 L1084.4,204.4 L1081.5,204.6 L1078.5,204.8 L1075.5,204.9 L1072.5,205.1 L1069.5,205.3 L1066.5,205.4 L1063.5,205.6 L1060.4,205.7 L1057.4,205.9 L1054.4,206.0 L1051.4,206.2 L1048.3,206.3 L1045.3,206.5 L1042.3,206.6 L1039.2,206.7 L1036.2,206.9 L1033.1,207.0 L1030.1,207.1 L1027.0,207.2 L1024.0,207.4 L1020.9,207.5 L1017.8,207.6 L1014.8,207.7 L1011.7,207.8 L1008.6,207.9 L1005.6,208.0 L1002.5,208.1 L999.4,208.2 L996.3,208.3 L993.3,208.4 L990.2,208.5 L987.1,208.6 L984.0,208.7 L980.9,208.8 L977.8,208.8 L974.7,208.9 L971.7,209.0 L968.6,209.0 L965.5,209.1 L962.4,209.2 L959.3,209.2 L956.2,209.3 L953.1,209.4 L950.0,209.4 L946.9,209.5 L943.8,209.5 L940.7,209.6 L937.7,209.6 L934.6,209.6 L931.5,209.7 L928.4,209.7 L925.3,209.7 L922.2,209.8 L919.1,209.8 L916.1,209.8 L913.0,209.8 L909.9,209.8 L906.8,209.9 L903.7,209.9 L900.7,209.9 L897.6,209.9 L894.5,209.9 L891.5,209.9 L888.4,209.9 L885.3,209.9 L882.3,209.9 L879.2,209.9 L876.2,209.8 L873.1,209.8 L870.1,209.8 L867.0,209.8 L864.0,209.8 L861.0,209.7 L857.9,209.7 L854.9,209.7 L851.9,209.6 L848.8,209.6 L845.8,209.5 L842.8,209.5 L839.8,209.4 L836.8,209.4 L833.8,209.3 L830.8,209.3 L827.8,209.2 L824.8,209.2 L821.9,209.1 L818.9,209.0 L815.9,208.9 L813.0,208.9 L810.0,208.8 L807.0,208.7 L806.5,208.7" fill="none" stroke="#FF4F2F" stroke-width="2.7"/>
<path d="M806.5,72.1 L809.3,71.9 L812.3,71.7 L815.2,71.6 L818.2,71.4 L821.2,71.2 L824.2,71.0 L827.1,70.9 L830.1,70.7 L833.1,70.5 L836.1,70.4 L839.1,70.2 L842.1,70.0 L845.1,69.9 L848.2,69.7 L851.2,69.6 L854.2,69.4 L857.2,69.3 L860.3,69.1 L863.3,69.0 L866.3,68.9 L869.4,68.7 L872.4,68.6 L875.5,68.5 L878.5,68.3 L881.6,68.2 L884.6,68.1 L887.7,68.0 L890.8,67.9 L893.8,67.8 L896.9,67.6 L900.0,67.5 L903.0,67.4 L906.1,67.3 L909.2,67.2 L912.3,67.1 L915.3,67.1 L918.4,67.0 L921.5,66.9 L924.6,66.8 L927.7,66.7 L930.8,66.6 L933.9,66.6 L936.9,66.5 L940.0,66.4 L943.1,66.3 L946.2,66.3 L949.3,66.2 L952.4,66.2 L955.5,66.1 L958.6,66.0 L961.7,66.0 L964.8,65.9 L967.9,65.9 L970.9,65.9 L974.0,65.8 L977.1,65.8 L980.2,65.8 L983.3,65.7 L986.4,65.7 L989.5,65.7 L992.5,65.6 L995.6,65.6 L998.7,65.6 L1001.8,65.6 L1004.9,65.6 L1007.9,65.6 L1011.0,65.6 L1014.1,65.6 L1017.1,65.6 L1020.2,65.6 L1023.3,65.6 L1026.3,65.6 L1029.4,65.6 L1032.4,65.6 L1035.5,65.6 L1038.5,65.7 L1041.6,65.7 L1044.6,65.7 L1047.6,65.7 L1050.7,65.8 L1053.7,65.8 L1056.7,65.8 L1059.8,65.9 L1062.8,65.9 L1065.8,66.0 L1068.8,66.0 L1071.8,66.1 L1074.8,66.1 L1077.8,66.2 L1080.8,66.2 L1083.8,66.3 L1086.7,66.4 L1089.7,66.4 L1092.7,66.5 L1095.6,66.6 L1098.6,66.7 L1101.6,66.7 L1104.5,66.8 L1107.4,66.9 L1110.4,67.0 L1113.3,67.1 L1116.2,67.2 L1119.1,67.3 L1122.0,67.4 L1125.0,67.5 L1127.8,67.6 L1130.7,67.7 L1133.6,67.8 L1136.5,67.9 L1139.4,68.0 L1142.2,68.2 L1145.1,68.3 L1147.9,68.4 L1150.8,68.5 L1153.6,68.7 L1156.4,68.8 L1159.2,68.9 L1162.0,69.1 L1164.8,69.2 L1167.6,69.3 L1170.4,69.5 L1173.2,69.6 L1175.9,69.8 L1178.7,69.9 L1181.4,70.1 L1184.2,70.3 L1186.9,70.4 L1189.6,70.6 L1192.3,70.8 L1195.0,70.9 L1197.7,71.1 L1200.4,71.3 L1203.1,71.5 L1205.7,71.6 L1208.4,71.8 L1211.0,72.0 L1213.7,72.2 L1216.3,72.4 L1218.9,72.6 L1221.5,72.8 L1224.1,73.0 L1225.0,73.0" fill="none" stroke="#FF4F2F" stroke-width="2.7"/>
<path d="M1225.0,185.0 L1222.0,185.4 L1219.0,185.8 L1215.9,186.1 L1212.9,186.5 L1209.8,186.9 L1206.7,187.3 L1203.5,187.6 L1200.4,188.0 L1197.2,188.3 L1194.1,188.7 L1190.9,189.0 L1187.7,189.4 L1184.4,189.7 L1181.2,190.1 L1178.8,190.3 L1176.3,190.6 L1173.9,190.8 L1171.4,191.0 L1168.9,191.3 L1166.4,191.5 L1163.9,191.8 L1161.4,192.0 L1158.9,192.2 L1156.4,192.5 L1153.9,192.7 L1151.4,192.9 L1148.8,193.1 L1146.3,193.4 L1143.7,193.6 L1141.2,193.8 L1138.6,194.0 L1136.0,194.2 L1133.4,194.5 L1130.8,194.7 L1128.2,194.9 L1125.6,195.1 L1123.0,195.3 L1120.4,195.5 L1117.8,195.7 L1115.1,195.9 L1112.5,196.1 L1109.9,196.3 L1107.2,196.4 L1104.5,196.6 L1101.9,196.8 L1099.2,197.0 L1096.5,197.2 L1093.9,197.4 L1091.2,197.5 L1088.5,197.7 L1085.8,197.9 L1083.1,198.0 L1080.4,198.2 L1077.7,198.4 L1075.0,198.5 L1072.2,198.7 L1069.5,198.8 L1066.8,199.0 L1064.0,199.1 L1061.3,199.3 L1058.6,199.4 L1055.8,199.6 L1053.1,199.7 L1050.3,199.9 L1047.5,200.0 L1044.8,200.1 L1042.0,200.3 L1039.3,200.4 L1036.5,200.5 L1033.7,200.7 L1030.9,200.8 L1028.1,200.9 L1025.4,201.0 L1022.6,201.1 L1019.8,201.2 L1017.0,201.3 L1014.2,201.4 L1011.4,201.6 L1008.6,201.7 L1005.8,201.8 L1003.0,201.9 L1000.2,201.9 L997.4,202.0 L994.6,202.1 L991.7,202.2 L988.9,202.3 L986.1,202.4 L983.3,202.5 L980.5,202.5 L977.7,202.6 L974.8,202.7 L972.0,202.7 L969.2,202.8 L966.4,202.9 L963.6,202.9 L960.7,203.0 L957.9,203.0 L955.1,203.1 L952.3,203.2 L949.5,203.2 L946.6,203.2 L943.8,203.3 L941.0,203.3 L938.2,203.4 L935.3,203.4 L932.5,203.4 L929.7,203.5 L926.9,203.5 L924.1,203.5 L921.3,203.5 L918.4,203.6 L915.6,203.6 L912.8,203.6 L910.0,203.6 L907.2,203.6 L904.4,203.6 L901.6,203.6 L898.8,203.6 L896.0,203.6 L893.2,203.6 L890.4,203.6 L887.6,203.6 L884.8,203.6 L882.0,203.6 L879.2,203.6 L876.5,203.5 L873.7,203.5 L870.9,203.5 L868.1,203.5 L865.4,203.4 L862.6,203.4 L859.8,203.4 L857.1,203.3 L854.3,203.3 L851.6,203.2 L848.8,203.2 L846.1,203.1 L843.4,203.1 L840.6,203.0 L837.9,203.0 L835.2,202.9 L832.5,202.9 L829.7,202.8 L827.0,202.7 L824.3,202.7 L821.6,202.6 L818.9,202.5 L816.3,202.4 L813.6,202.4 L810.9,202.3 L808.2,202.2 L806.5,202.1" fill="none" stroke="#FF4729" stroke-width="2.7"/>
<path d="M806.5,78.7 L809.4,78.5 L812.1,78.3 L814.7,78.1 L817.4,77.9 L820.1,77.8 L822.8,77.6 L825.5,77.4 L828.2,77.3 L830.9,77.1 L833.6,76.9 L836.4,76.8 L839.1,76.6 L841.8,76.5 L844.6,76.3 L847.3,76.2 L850.0,76.0 L852.8,75.9 L855.5,75.7 L858.3,75.6 L861.1,75.5 L863.8,75.3 L866.6,75.2 L869.3,75.1 L872.1,74.9 L874.9,74.8 L877.7,74.7 L880.5,74.6 L883.2,74.5 L886.0,74.3 L888.8,74.2 L891.6,74.1 L894.4,74.0 L897.2,73.9 L900.0,73.8 L902.8,73.7 L905.6,73.6 L908.4,73.5 L911.2,73.4 L914.0,73.3 L916.9,73.2 L919.7,73.2 L922.5,73.1 L925.3,73.0 L928.1,72.9 L930.9,72.9 L933.8,72.8 L936.6,72.7 L939.4,72.6 L942.2,72.6 L945.0,72.5 L947.9,72.5 L950.7,72.4 L953.5,72.4 L956.3,72.3 L959.1,72.3 L962.0,72.2 L964.8,72.2 L967.6,72.1 L970.4,72.1 L973.3,72.1 L976.1,72.0 L978.9,72.0 L981.7,72.0 L984.5,71.9 L987.3,71.9 L990.2,71.9 L993.0,71.9 L995.8,71.9 L998.6,71.9 L1001.4,71.8 L1004.2,71.8 L1007.0,71.8 L1009.8,71.8 L1012.6,71.8 L1015.4,71.8 L1018.2,71.9 L1021.0,71.9 L1023.8,71.9 L1026.6,71.9 L1029.4,71.9 L1032.1,71.9 L1034.9,71.9 L1037.7,72.0 L1040.5,72.0 L1043.2,72.0 L1046.0,72.1 L1048.8,72.1 L1051.5,72.1 L1054.3,72.2 L1057.0,72.2 L1059.8,72.3 L1062.5,72.3 L1065.2,72.4 L1068.0,72.4 L1070.7,72.5 L1073.4,72.5 L1076.1,72.6 L1078.9,72.7 L1081.6,72.7 L1084.3,72.8 L1087.0,72.9 L1089.7,72.9 L1092.3,73.0 L1095.0,73.1 L1097.7,73.2 L1100.4,73.3 L1103.0,73.3 L1105.7,73.4 L1108.4,73.5 L1111.0,73.6 L1113.7,73.7 L1116.3,73.8 L1118.9,73.9 L1121.5,74.0 L1124.2,74.1 L1126.8,74.2 L1129.4,74.3 L1132.0,74.5 L1134.6,74.6 L1137.1,74.7 L1139.7,74.8 L1142.3,74.9 L1144.8,75.1 L1147.4,75.2 L1149.9,75.3 L1152.5,75.5 L1155.0,75.6 L1157.5,75.7 L1160.0,75.9 L1162.5,76.0 L1165.0,76.2 L1167.5,76.3 L1170.0,76.5 L1172.5,76.6 L1174.9,76.8 L1177.4,76.9 L1179.8,77.1 L1183.1,77.3 L1186.3,77.5 L1189.5,77.8 L1192.7,78.0 L1195.9,78.2 L1199.1,78.5 L1202.2,78.7 L1205.3,79.0 L1208.5,79.2 L1211.5,79.5 L1214.6,79.7 L1217.7,80.0 L1220.7,80.3 L1223.7,80.5 L1225.0,80.7" fill="none" stroke="#FF4729" stroke-width="2.7"/>
<path d="M1225.0,176.1 L1222.5,176.5 L1220.0,176.8 L1217.5,177.2 L1214.9,177.6 L1212.3,177.9 L1209.8,178.3 L1207.1,178.6 L1204.5,179.0 L1201.9,179.3 L1199.2,179.7 L1196.5,180.0 L1193.8,180.4 L1191.1,180.7 L1188.4,181.1 L1185.7,181.4 L1182.9,181.7 L1180.1,182.0 L1177.3,182.4 L1174.5,182.7 L1171.7,183.0 L1168.8,183.3 L1166.0,183.6 L1163.1,183.9 L1160.2,184.2 L1157.3,184.6 L1154.4,184.9 L1151.5,185.1 L1148.6,185.4 L1145.6,185.7 L1142.6,186.0 L1139.7,186.3 L1136.7,186.6 L1133.7,186.8 L1130.6,187.1 L1127.6,187.4 L1124.6,187.7 L1121.5,187.9 L1118.4,188.2 L1115.4,188.4 L1112.3,188.7 L1109.2,188.9 L1106.0,189.2 L1102.9,189.4 L1099.8,189.6 L1096.6,189.9 L1093.5,190.1 L1090.3,190.3 L1087.2,190.5 L1084.0,190.8 L1080.8,191.0 L1077.6,191.2 L1074.4,191.4 L1071.2,191.6 L1067.9,191.8 L1064.7,192.0 L1061.5,192.2 L1058.2,192.4 L1054.9,192.6 L1052.5,192.7 L1050.1,192.8 L1047.6,193.0 L1045.1,193.1 L1042.7,193.2 L1040.2,193.3 L1037.7,193.5 L1035.3,193.6 L1032.8,193.7 L1030.3,193.8 L1027.8,193.9 L1025.4,194.0 L1022.9,194.1 L1020.4,194.2 L1017.9,194.4 L1015.4,194.5 L1012.9,194.6 L1010.4,194.7 L1007.9,194.7 L1005.4,194.8 L1002.9,194.9 L1000.4,195.0 L997.9,195.1 L995.3,195.2 L992.8,195.3 L990.3,195.4 L987.8,195.4 L985.3,195.5 L982.8,195.6 L980.2,195.6 L977.7,195.7 L975.2,195.8 L972.7,195.8 L970.2,195.9 L967.6,196.0 L965.1,196.0 L962.6,196.1 L960.1,196.1 L957.5,196.2 L955.0,196.2 L952.5,196.3 L950.0,196.3 L947.4,196.4 L944.9,196.4 L942.4,196.4 L939.9,196.5 L937.3,196.5 L934.8,196.5 L932.3,196.5 L929.8,196.6 L927.3,196.6 L924.7,196.6 L922.2,196.6 L919.7,196.6 L917.2,196.7 L914.7,196.7 L912.2,196.7 L909.6,196.7 L907.1,196.7 L904.6,196.7 L902.1,196.7 L899.6,196.7 L897.1,196.7 L894.6,196.7 L892.1,196.7 L889.6,196.6 L887.1,196.6 L884.7,196.6 L882.2,196.6 L879.7,196.6 L877.2,196.5 L874.7,196.5 L872.3,196.5 L869.8,196.5 L867.3,196.4 L864.9,196.4 L862.4,196.4 L859.9,196.3 L857.5,196.3 L855.0,196.2 L851.8,196.2 L848.5,196.1 L845.3,196.0 L842.0,195.9 L838.8,195.9 L835.6,195.8 L832.4,195.7 L829.2,195.6 L826.0,195.5 L822.8,195.4 L819.6,195.3 L816.4,195.2 L813.3,195.1 L810.1,195.0 L807.0,194.8 L806.5,194.8" fill="none" stroke="#FF3F22" stroke-width="2.7"/>
<path d="M806.5,86.0 L809.6,85.8 L812.7,85.5 L815.9,85.3 L819.1,85.1 L822.2,84.9 L825.4,84.6 L828.6,84.4 L831.8,84.2 L835.0,84.0 L838.3,83.8 L841.5,83.6 L844.7,83.4 L848.0,83.2 L851.2,83.0 L854.5,82.9 L856.9,82.7 L859.4,82.6 L861.8,82.5 L864.3,82.3 L866.7,82.2 L869.2,82.1 L871.7,82.0 L874.2,81.8 L876.6,81.7 L879.1,81.6 L881.6,81.5 L884.1,81.4 L886.6,81.3 L889.1,81.2 L891.6,81.1 L894.0,81.0 L896.5,80.9 L899.0,80.8 L901.5,80.7 L904.1,80.6 L906.6,80.5 L909.1,80.4 L911.6,80.3 L914.1,80.2 L916.6,80.2 L919.1,80.1 L921.6,80.0 L924.2,79.9 L926.7,79.9 L929.2,79.8 L931.7,79.7 L934.2,79.7 L936.8,79.6 L939.3,79.5 L941.8,79.5 L944.3,79.4 L946.9,79.4 L949.4,79.3 L951.9,79.3 L954.4,79.2 L957.0,79.2 L959.5,79.1 L962.0,79.1 L964.5,79.1 L967.1,79.0 L969.6,79.0 L972.1,79.0 L974.6,78.9 L977.1,78.9 L979.7,78.9 L982.2,78.9 L984.7,78.8 L987.2,78.8 L989.7,78.8 L992.3,78.8 L994.8,78.8 L997.3,78.8 L999.8,78.8 L1002.3,78.8 L1004.8,78.8 L1007.3,78.8 L1009.8,78.8 L1012.3,78.8 L1014.8,78.8 L1017.3,78.8 L1019.8,78.8 L1022.3,78.8 L1024.8,78.9 L1027.3,78.9 L1029.7,78.9 L1032.2,78.9 L1034.7,78.9 L1037.2,79.0 L1039.6,79.0 L1042.1,79.0 L1044.6,79.1 L1047.0,79.1 L1049.5,79.2 L1051.9,79.2 L1055.2,79.3 L1058.5,79.3 L1061.7,79.4 L1064.9,79.5 L1068.2,79.6 L1071.4,79.6 L1074.6,79.7 L1077.8,79.8 L1081.0,79.9 L1084.2,80.0 L1087.4,80.1 L1090.6,80.2 L1093.7,80.3 L1096.9,80.4 L1100.0,80.6 L1103.2,80.7 L1106.3,80.8 L1109.4,80.9 L1112.5,81.1 L1115.6,81.2 L1118.7,81.4 L1121.7,81.5 L1124.8,81.7 L1127.8,81.8 L1130.9,82.0 L1133.9,82.1 L1136.9,82.3 L1139.9,82.5 L1142.9,82.6 L1145.8,82.8 L1148.8,83.0 L1151.7,83.2 L1154.7,83.4 L1157.6,83.6 L1160.5,83.8 L1163.3,84.0 L1166.2,84.2 L1169.1,84.4 L1171.9,84.6 L1174.7,84.8 L1177.5,85.0 L1180.3,85.3 L1183.1,85.5 L1185.9,85.7 L1188.6,86.0 L1191.3,86.2 L1194.1,86.4 L1196.7,86.7 L1199.4,86.9 L1202.1,87.2 L1204.7,87.4 L1207.3,87.7 L1210.0,88.0 L1212.5,88.2 L1215.1,88.5 L1217.7,88.8 L1220.2,89.0 L1222.7,89.3 L1225.0,89.6" fill="none" stroke="#FF3F22" stroke-width="2.7"/>
<path d="M1225.0,164.7 L1222.2,165.3 L1219.3,165.8 L1216.5,166.4 L1214.1,166.8 L1211.6,167.3 L1209.2,167.7 L1206.7,168.1 L1204.1,168.5 L1201.6,169.0 L1199.0,169.4 L1196.4,169.8 L1193.7,170.2 L1191.1,170.6 L1188.4,171.0 L1185.7,171.4 L1182.9,171.9 L1180.2,172.2 L1177.4,172.6 L1174.6,173.0 L1171.7,173.4 L1168.9,173.8 L1166.0,174.2 L1163.1,174.5 L1160.1,174.9 L1157.2,175.3 L1154.2,175.6 L1151.2,176.0 L1148.2,176.3 L1145.1,176.7 L1142.7,177.0 L1140.2,177.2 L1137.8,177.5 L1135.3,177.8 L1132.8,178.0 L1130.3,178.3 L1127.7,178.6 L1125.2,178.8 L1122.7,179.1 L1120.1,179.3 L1117.5,179.6 L1114.9,179.8 L1112.3,180.1 L1109.7,180.3 L1107.1,180.5 L1104.5,180.8 L1101.9,181.0 L1099.2,181.2 L1096.5,181.4 L1093.9,181.7 L1091.2,181.9 L1088.5,182.1 L1085.8,182.3 L1083.1,182.5 L1080.4,182.7 L1077.7,182.9 L1074.9,183.1 L1072.2,183.3 L1069.4,183.5 L1066.7,183.7 L1063.9,183.9 L1061.1,184.1 L1058.4,184.2 L1055.6,184.4 L1052.8,184.6 L1050.0,184.8 L1047.2,184.9 L1044.3,185.1 L1041.5,185.2 L1038.7,185.4 L1035.9,185.6 L1033.0,185.7 L1030.2,185.8 L1027.3,186.0 L1024.5,186.1 L1021.6,186.3 L1018.7,186.4 L1015.9,186.5 L1013.0,186.6 L1010.1,186.8 L1007.2,186.9 L1004.4,187.0 L1001.5,187.1 L998.6,187.2 L995.7,187.3 L992.8,187.4 L989.9,187.5 L987.0,187.6 L984.1,187.7 L981.2,187.8 L978.2,187.9 L975.3,188.0 L972.4,188.0 L969.5,188.1 L966.6,188.2 L963.7,188.2 L960.8,188.3 L957.8,188.4 L954.9,188.4 L952.0,188.5 L949.1,188.5 L946.2,188.6 L943.2,188.6 L940.3,188.6 L937.4,188.7 L934.5,188.7 L931.6,188.7 L928.7,188.8 L925.8,188.8 L922.9,188.8 L920.0,188.8 L917.1,188.8 L914.2,188.8 L911.3,188.8 L908.4,188.8 L905.5,188.8 L902.6,188.8 L899.7,188.8 L896.8,188.8 L893.9,188.8 L891.1,188.7 L888.2,188.7 L885.3,188.7 L882.5,188.6 L879.6,188.6 L876.8,188.6 L873.9,188.5 L871.1,188.5 L868.3,188.4 L865.4,188.4 L862.6,188.3 L859.8,188.2 L857.0,188.2 L854.2,188.1 L851.4,188.0 L848.6,188.0 L845.9,187.9 L843.1,187.8 L840.3,187.7 L837.6,187.6 L834.8,187.5 L832.1,187.4 L829.4,187.3 L826.6,187.2 L823.9,187.1 L821.2,187.0 L818.5,186.9 L815.9,186.8 L813.2,186.6 L810.5,186.5 L807.9,186.4 L806.5,186.3" fill="none" stroke="#FF351B" stroke-width="2.7"/>
<path d="M806.5,94.5 L809.4,94.2 L812.1,94.0 L814.7,93.8 L817.4,93.6 L820.1,93.4 L822.8,93.2 L825.5,92.9 L828.2,92.7 L830.9,92.5 L833.7,92.3 L836.4,92.1 L839.2,92.0 L841.9,91.8 L844.7,91.6 L847.5,91.4 L850.2,91.2 L853.0,91.0 L855.8,90.9 L858.6,90.7 L861.4,90.5 L864.3,90.4 L867.1,90.2 L869.9,90.1 L872.7,89.9 L875.6,89.8 L878.4,89.6 L881.3,89.5 L884.1,89.3 L887.0,89.2 L889.9,89.1 L892.7,88.9 L895.6,88.8 L898.5,88.7 L901.4,88.6 L904.2,88.5 L907.1,88.3 L910.0,88.2 L912.9,88.1 L915.8,88.0 L918.7,87.9 L921.6,87.8 L924.5,87.7 L927.4,87.7 L930.4,87.6 L933.3,87.5 L936.2,87.4 L939.1,87.3 L942.0,87.3 L944.9,87.2 L947.8,87.1 L950.8,87.1 L953.7,87.0 L956.6,87.0 L959.5,86.9 L962.4,86.9 L965.4,86.8 L968.3,86.8 L971.2,86.8 L974.1,86.7 L977.0,86.7 L979.9,86.7 L982.8,86.7 L985.7,86.7 L988.6,86.6 L991.5,86.6 L994.4,86.6 L997.3,86.6 L1000.2,86.6 L1003.1,86.6 L1006.0,86.6 L1008.9,86.7 L1011.8,86.7 L1014.7,86.7 L1017.5,86.7 L1020.4,86.7 L1023.3,86.8 L1026.1,86.8 L1029.0,86.8 L1031.8,86.9 L1034.7,86.9 L1037.5,87.0 L1040.3,87.0 L1043.2,87.1 L1046.0,87.2 L1048.8,87.2 L1051.6,87.3 L1054.4,87.3 L1057.2,87.4 L1060.0,87.5 L1062.7,87.6 L1065.5,87.7 L1068.3,87.8 L1071.0,87.8 L1073.8,87.9 L1076.5,88.0 L1079.2,88.1 L1082.0,88.2 L1084.7,88.3 L1087.4,88.5 L1090.1,88.6 L1092.7,88.7 L1095.4,88.8 L1098.1,88.9 L1100.7,89.1 L1103.4,89.2 L1106.0,89.3 L1108.6,89.5 L1111.2,89.6 L1113.8,89.8 L1116.4,89.9 L1119.0,90.1 L1121.6,90.2 L1124.1,90.4 L1126.7,90.5 L1129.2,90.7 L1131.7,90.9 L1134.2,91.1 L1136.7,91.2 L1139.2,91.4 L1141.7,91.6 L1144.1,91.8 L1147.2,92.0 L1150.2,92.3 L1153.2,92.5 L1156.2,92.8 L1159.1,93.0 L1162.1,93.3 L1165.0,93.5 L1167.9,93.8 L1170.8,94.1 L1173.6,94.4 L1176.4,94.6 L1179.2,94.9 L1182.0,95.2 L1184.7,95.5 L1187.5,95.8 L1190.2,96.1 L1192.8,96.5 L1195.5,96.8 L1198.1,97.1 L1200.7,97.4 L1203.3,97.8 L1205.8,98.1 L1208.3,98.4 L1210.8,98.8 L1213.2,99.1 L1215.7,99.5 L1218.5,99.9 L1221.4,100.3 L1224.2,100.8 L1225.0,100.9" fill="none" stroke="#FF351B" stroke-width="2.7"/>
<path d="M1225.0,145.7 L1222.7,146.8 L1220.4,147.7 L1218.0,148.6 L1215.7,149.5 L1213.2,150.3 L1210.7,151.1 L1208.3,151.9 L1205.8,152.6 L1203.3,153.4 L1200.6,154.1 L1198.2,154.7 L1195.7,155.4 L1193.1,156.0 L1190.5,156.6 L1187.8,157.3 L1185.4,157.8 L1182.9,158.3 L1180.4,158.9 L1177.8,159.4 L1175.2,159.9 L1172.6,160.4 L1169.9,160.9 L1167.1,161.4 L1164.3,161.9 L1161.9,162.4 L1159.4,162.8 L1156.9,163.2 L1154.4,163.6 L1151.8,164.0 L1149.2,164.4 L1146.6,164.8 L1143.9,165.2 L1141.2,165.6 L1138.5,166.0 L1135.8,166.4 L1133.0,166.8 L1130.2,167.2 L1127.4,167.5 L1124.5,167.9 L1121.6,168.3 L1118.7,168.6 L1116.3,168.9 L1113.8,169.2 L1111.3,169.5 L1108.9,169.8 L1106.3,170.0 L1103.8,170.3 L1101.3,170.6 L1098.7,170.9 L1096.1,171.1 L1093.5,171.4 L1090.9,171.6 L1088.3,171.9 L1085.7,172.1 L1083.0,172.4 L1080.3,172.6 L1077.6,172.9 L1075.0,173.1 L1072.2,173.3 L1069.5,173.6 L1066.8,173.8 L1064.0,174.0 L1061.3,174.2 L1058.5,174.4 L1055.7,174.6 L1052.9,174.8 L1050.1,175.0 L1047.3,175.2 L1044.5,175.4 L1041.7,175.6 L1038.8,175.8 L1036.0,176.0 L1033.1,176.1 L1030.2,176.3 L1027.4,176.5 L1024.5,176.6 L1021.6,176.8 L1018.7,177.0 L1015.8,177.1 L1012.8,177.2 L1009.9,177.4 L1007.0,177.5 L1004.1,177.7 L1001.1,177.8 L998.2,177.9 L995.2,178.0 L992.3,178.1 L989.3,178.2 L986.4,178.3 L983.4,178.4 L980.4,178.5 L977.4,178.6 L974.5,178.7 L971.5,178.8 L968.5,178.9 L965.5,179.0 L962.6,179.0 L959.6,179.1 L956.6,179.1 L953.6,179.2 L950.6,179.3 L947.6,179.3 L944.7,179.3 L941.7,179.4 L938.7,179.4 L935.7,179.4 L932.8,179.5 L929.8,179.5 L926.8,179.5 L923.8,179.5 L920.9,179.5 L917.9,179.5 L915.0,179.5 L912.0,179.5 L909.1,179.5 L906.1,179.5 L903.2,179.4 L900.3,179.4 L897.3,179.4 L894.4,179.3 L891.5,179.3 L888.6,179.3 L885.7,179.2 L882.8,179.2 L879.9,179.1 L877.0,179.0 L874.2,179.0 L871.3,178.9 L868.5,178.8 L865.6,178.7 L862.8,178.6 L860.0,178.6 L857.2,178.5 L854.4,178.4 L851.6,178.3 L848.8,178.2 L846.0,178.0 L843.3,177.9 L840.5,177.8 L837.8,177.7 L835.1,177.5 L832.4,177.4 L829.7,177.3 L827.0,177.1 L824.4,177.0 L821.7,176.8 L819.1,176.7 L816.5,176.5 L813.9,176.3 L811.3,176.2 L808.7,176.0 L806.5,175.8" fill="none" stroke="#FF2A14" stroke-width="2.7"/>
<path d="M806.5,105.0 L809.4,104.7 L812.0,104.4 L814.6,104.1 L817.2,103.9 L819.8,103.6 L822.4,103.4 L825.1,103.1 L827.7,102.9 L830.4,102.6 L833.1,102.4 L835.8,102.2 L838.5,101.9 L841.3,101.7 L844.0,101.5 L846.8,101.3 L849.5,101.1 L852.3,100.9 L855.1,100.7 L857.9,100.5 L860.7,100.3 L863.5,100.1 L866.4,99.9 L869.2,99.7 L872.1,99.5 L874.9,99.3 L877.8,99.2 L880.7,99.0 L883.6,98.8 L886.4,98.7 L889.3,98.5 L892.3,98.4 L895.2,98.2 L898.1,98.1 L901.0,98.0 L904.0,97.8 L906.9,97.7 L909.8,97.6 L912.8,97.5 L915.7,97.3 L918.7,97.2 L921.7,97.1 L924.6,97.0 L927.6,96.9 L930.6,96.8 L933.5,96.8 L936.5,96.7 L939.5,96.6 L942.5,96.5 L945.4,96.4 L948.4,96.4 L951.4,96.3 L954.4,96.3 L957.4,96.2 L960.4,96.2 L963.3,96.1 L966.3,96.1 L969.3,96.1 L972.3,96.0 L975.3,96.0 L978.2,96.0 L981.2,96.0 L984.2,96.0 L987.1,95.9 L990.1,95.9 L993.0,96.0 L996.0,96.0 L998.9,96.0 L1001.9,96.0 L1004.8,96.0 L1007.8,96.0 L1010.7,96.1 L1013.6,96.1 L1016.5,96.1 L1019.4,96.2 L1022.3,96.2 L1025.2,96.3 L1028.1,96.3 L1031.0,96.4 L1033.9,96.5 L1036.7,96.5 L1039.6,96.6 L1042.4,96.7 L1045.2,96.8 L1048.1,96.9 L1050.9,97.0 L1053.7,97.1 L1056.5,97.2 L1059.2,97.3 L1062.0,97.4 L1064.8,97.5 L1067.5,97.6 L1070.2,97.8 L1073.0,97.9 L1075.7,98.0 L1078.4,98.2 L1081.0,98.3 L1083.7,98.5 L1086.3,98.6 L1089.0,98.8 L1091.6,98.9 L1094.2,99.1 L1096.8,99.3 L1099.4,99.4 L1101.9,99.6 L1104.5,99.8 L1107.0,100.0 L1109.5,100.2 L1112.0,100.3 L1114.5,100.5 L1116.9,100.7 L1119.9,101.0 L1122.8,101.2 L1125.6,101.5 L1128.5,101.8 L1131.3,102.0 L1134.1,102.3 L1136.8,102.6 L1139.6,102.9 L1142.3,103.2 L1145.0,103.5 L1147.6,103.8 L1150.2,104.1 L1152.8,104.4 L1155.3,104.7 L1157.9,105.0 L1160.4,105.4 L1162.8,105.7 L1165.6,106.1 L1168.4,106.5 L1171.1,106.9 L1173.8,107.3 L1176.5,107.8 L1179.1,108.2 L1181.6,108.6 L1184.1,109.1 L1186.5,109.5 L1189.3,110.0 L1191.9,110.6 L1194.5,111.1 L1197.1,111.6 L1199.5,112.2 L1201.9,112.8 L1204.5,113.4 L1207.0,114.0 L1209.5,114.7 L1212.1,115.4 L1214.5,116.2 L1216.9,116.9 L1219.4,117.8 L1221.7,118.6 L1224.1,119.6 L1225.0,119.9" fill="none" stroke="#FF2A14" stroke-width="2.7"/>
<path d="M806.5,120.3 L808.9,119.9 L811.6,119.4 L814.0,119.1 L816.5,118.7 L819.0,118.3 L821.5,117.9 L824.1,117.5 L826.7,117.2 L829.4,116.8 L832.1,116.5 L834.8,116.1 L837.5,115.8 L840.0,115.5 L842.4,115.2 L844.9,114.9 L847.4,114.7 L849.9,114.4 L852.5,114.1 L855.1,113.9 L857.7,113.6 L860.3,113.4 L862.9,113.1 L865.6,112.9 L868.2,112.6 L870.9,112.4 L873.6,112.2 L876.4,112.0 L879.1,111.8 L881.9,111.5 L884.6,111.3 L887.4,111.1 L890.2,111.0 L893.1,110.8 L895.9,110.6 L898.7,110.4 L901.2,110.3 L903.6,110.1 L906.1,110.0 L908.6,109.9 L911.1,109.7 L913.6,109.6 L916.0,109.5 L918.5,109.4 L921.0,109.3 L923.6,109.2 L926.1,109.1 L928.6,109.0 L931.1,108.9 L933.6,108.8 L936.2,108.7 L938.7,108.7 L941.2,108.6 L943.8,108.5 L946.3,108.5 L948.9,108.4 L951.4,108.3 L953.9,108.3 L956.5,108.2 L959.0,108.2 L961.6,108.2 L964.1,108.1 L966.6,108.1 L969.2,108.1 L971.7,108.1 L974.2,108.1 L976.8,108.1 L979.3,108.1 L981.8,108.1 L984.3,108.1 L986.8,108.1 L989.4,108.1 L991.9,108.1 L994.3,108.1 L996.8,108.2 L999.3,108.2 L1001.8,108.2 L1004.3,108.3 L1006.7,108.3 L1009.2,108.4 L1012.0,108.5 L1014.9,108.5 L1017.7,108.6 L1020.5,108.7 L1023.3,108.8 L1026.1,108.9 L1028.8,109.0 L1031.6,109.1 L1034.3,109.2 L1037.0,109.4 L1039.7,109.5 L1042.4,109.6 L1045.1,109.8 L1047.7,109.9 L1050.3,110.1 L1052.9,110.2 L1055.5,110.4 L1058.1,110.6 L1060.6,110.8 L1063.1,110.9 L1065.6,111.1 L1068.1,111.3 L1070.8,111.6 L1073.6,111.8 L1076.3,112.0 L1079.0,112.3 L1081.6,112.5 L1084.3,112.8 L1086.8,113.1 L1089.4,113.4 L1091.9,113.7 L1094.4,113.9 L1097.1,114.3 L1099.8,114.6 L1102.4,115.0 L1104.9,115.4 L1107.5,115.7 L1109.9,116.1 L1112.6,116.5 L1115.2,117.0 L1117.7,117.4 L1120.2,117.9 L1122.8,118.4 L1125.3,118.9 L1127.8,119.5 L1130.4,120.0 L1132.8,120.6 L1135.3,121.3 L1137.7,122.0 L1140.1,122.7 L1142.6,123.6 L1144.9,124.4 L1147.2,125.4 L1149.5,126.5 L1151.6,127.7 L1153.7,129.2 L1155.4,131.0 L1156.5,133.2 L1156.3,135.7 L1155.0,137.8 L1153.1,139.5 L1151.1,141.0 L1149.0,142.2 L1146.8,143.3 L1144.5,144.3 L1142.0,145.3 L1139.6,146.2 L1137.1,147.0 L1134.7,147.8 L1132.3,148.5 L1129.9,149.2 L1127.3,149.9 L1124.8,150.5 L1122.3,151.1 L1119.9,151.6 L1117.4,152.2 L1114.9,152.7 L1112.3,153.3 L1109.8,153.7 L1107.4,154.2 L1104.9,154.7 L1102.3,155.1 L1099.7,155.6 L1097.0,156.0 L1094.6,156.4 L1092.1,156.8 L1089.6,157.2 L1087.1,157.5 L1084.5,157.9 L1081.9,158.3 L1079.2,158.6 L1076.5,159.0 L1073.8,159.3 L1071.1,159.7 L1068.6,159.9 L1066.2,160.2 L1063.7,160.5 L1061.2,160.8 L1058.7,161.1 L1056.1,161.3 L1053.5,161.6 L1050.9,161.8 L1048.3,162.1 L1045.7,162.3 L1043.0,162.6 L1040.4,162.8 L1037.7,163.0 L1035.0,163.3 L1032.2,163.5 L1029.5,163.7 L1026.7,163.9 L1024.0,164.1 L1021.2,164.3 L1018.4,164.5 L1015.5,164.7 L1012.7,164.9 L1009.9,165.0 L1007.4,165.2 L1005.0,165.3 L1002.5,165.5 L1000.0,165.6 L997.5,165.7 L995.0,165.8 L992.6,166.0 L990.1,166.1 L987.6,166.2 L985.0,166.3 L982.5,166.4 L980.0,166.5 L977.5,166.6 L975.0,166.6 L972.4,166.7 L969.9,166.8 L967.4,166.9 L964.8,166.9 L962.3,167.0 L959.7,167.1 L957.2,167.1 L954.7,167.2 L952.1,167.2 L949.6,167.3 L947.0,167.3 L944.5,167.3 L942.0,167.3 L939.4,167.4 L936.9,167.4 L934.4,167.4 L931.8,167.4 L929.3,167.4 L926.8,167.4 L924.3,167.4 L921.8,167.4 L919.3,167.4 L916.7,167.3 L914.3,167.3 L911.8,167.3 L909.3,167.3 L906.8,167.2 L904.3,167.2 L901.9,167.1 L899.4,167.1 L896.6,167.0 L893.7,166.9 L890.9,166.8 L888.1,166.8 L885.3,166.7 L882.5,166.6 L879.8,166.5 L877.0,166.3 L874.3,166.2 L871.6,166.1 L868.9,166.0 L866.2,165.8 L863.5,165.7 L860.9,165.5 L858.3,165.4 L855.7,165.2 L853.1,165.1 L850.5,164.9 L848.0,164.7 L845.5,164.5 L843.0,164.3 L840.5,164.1 L837.8,163.9 L835.0,163.7 L832.3,163.4 L829.6,163.2 L827.0,162.9 L824.3,162.6 L821.8,162.4 L819.2,162.1 L816.7,161.8 L814.2,161.5 L811.5,161.2 L808.8,160.8 L806.5,160.5" fill="none" stroke="#FF1C0A" stroke-width="2.7"/>
<path d="M930.5,141.2 L928.1,140.4 L928.1,138.0 L930.4,137.2 L932.8,136.6 L935.3,136.2 L937.7,135.8 L940.1,135.5 L942.6,135.3 L945.0,135.1 L947.5,135.0 L950.0,134.8 L952.5,134.8 L954.9,134.7 L957.4,134.7 L959.9,134.7 L962.4,134.7 L964.9,134.8 L967.3,135.0 L969.8,135.1 L972.2,135.4 L974.7,135.7 L977.1,136.1 L979.5,136.7 L981.7,137.8 L980.1,139.7 L977.7,140.4 L975.3,140.9 L972.8,141.3 L970.4,141.7 L967.9,142.0 L965.4,142.2 L963.0,142.4 L960.5,142.5 L958.0,142.6 L955.5,142.7 L953.0,142.7 L950.6,142.8 L948.1,142.7 L945.6,142.7 L943.1,142.6 L940.6,142.4 L938.2,142.3 L935.7,142.0 L933.3,141.7 L930.8,141.2Z" fill="none" stroke="#FF0100" stroke-width="2.7"/>
<text x="806.20" y="265.70" font-family='"Liberation Serif", serif' font-size="16.67" text-anchor="start" font-weight="normal" fill="#000">cost=30384158551008.5117</text>
<text x="806.20" y="286.70" font-family='"Liberation Serif", serif' font-size="16.67" text-anchor="start" font-weight="normal" fill="#000">iteration=18</text>
<text x="806.20" y="308.30" font-family='"Liberation Serif", serif' font-size="16.67" text-anchor="start" font-weight="normal" fill="#000">step size=0.0562</text>
<line x1="785.50" y1="36.90" x2="1085.70" y2="264.90" stroke="#0000FF" stroke-width="4.8" />
<line x1="785.50" y1="36.90" x2="1246.60" y2="321.20" stroke="#0000FF" stroke-width="4.8" />
<circle cx="954.7" cy="137.6" r="1.8" fill="#000"/>
<circle cx="785.4" cy="36.6" r="7.4" fill="#000" fill-opacity="0.5"/>
<line x1="777.20" y1="49.50" x2="785.50" y2="49.50" stroke="#000" stroke-width="1.1" />
<text x="772.00" y="57.20" font-family='"Liberation Sans", sans-serif' font-size="22.6" text-anchor="end" font-weight="normal" fill="#000">1.00</text>
<line x1="777.20" y1="103.50" x2="785.50" y2="103.50" stroke="#000" stroke-width="1.1" />
<text x="772.00" y="111.13" font-family='"Liberation Sans", sans-serif' font-size="22.6" text-anchor="end" font-weight="normal" fill="#000">0.75</text>
<line x1="777.20" y1="157.50" x2="785.50" y2="157.50" stroke="#000" stroke-width="1.1" />
<text x="772.00" y="165.05" font-family='"Liberation Sans", sans-serif' font-size="22.6" text-anchor="end" font-weight="normal" fill="#000">0.50</text>
<line x1="777.20" y1="211.50" x2="785.50" y2="211.50" stroke="#000" stroke-width="1.1" />
<text x="772.00" y="218.98" font-family='"Liberation Sans", sans-serif' font-size="22.6" text-anchor="end" font-weight="normal" fill="#000">0.25</text>
<line x1="777.20" y1="265.50" x2="785.50" y2="265.50" stroke="#000" stroke-width="1.1" />
<text x="772.00" y="272.90" font-family='"Liberation Sans", sans-serif' font-size="22.6" text-anchor="end" font-weight="normal" fill="#000">0.00</text>
<line x1="777.20" y1="319.50" x2="785.50" y2="319.50" stroke="#000" stroke-width="1.1" />
<text x="772.00" y="326.83" font-family='"Liberation Sans", sans-serif' font-size="22.6" text-anchor="end" font-weight="normal" fill="#000">-0.25</text>
<line x1="806.50" y1="321.40" x2="806.50" y2="329.40" stroke="#000" stroke-width="1.1" />
<text x="806.50" y="349.90" font-family='"Liberation Sans", sans-serif' font-size="22.6" text-anchor="middle" font-weight="normal" fill="#000">-0.2</text>
<line x1="946.50" y1="321.40" x2="946.50" y2="329.40" stroke="#000" stroke-width="1.1" />
<text x="946.00" y="349.90" font-family='"Liberation Sans", sans-serif' font-size="22.6" text-anchor="middle" font-weight="normal" fill="#000">-0.1</text>
<line x1="1085.50" y1="321.40" x2="1085.50" y2="329.40" stroke="#000" stroke-width="1.1" />
<text x="1085.50" y="349.90" font-family='"Liberation Sans", sans-serif' font-size="22.6" text-anchor="middle" font-weight="normal" fill="#000">0.0</text>
<line x1="1225.50" y1="321.40" x2="1225.50" y2="329.40" stroke="#000" stroke-width="1.1" />
<text x="1225.00" y="349.90" font-family='"Liberation Sans", sans-serif' font-size="22.6" text-anchor="middle" font-weight="normal" fill="#000">0.1</text>
<text x="1016.00" y="388.70" font-family='"Liberation Serif", serif' font-size="22.22" text-anchor="middle" font-weight="normal" fill="#000">intercept</text>
<text x="709.00" y="178.90" font-family='"Liberation Serif", serif' font-size="22.22" text-anchor="middle" font-weight="normal" fill="#000" transform="rotate(-90 709.0 178.9)">slope</text>
<text x="565.60" y="469.50" font-family='"Liberation Sans", sans-serif' font-size="26.8" text-anchor="middle" font-weight="normal" fill="#000">Train/validation error, select iteration and step size</text>
<line x1="175.10" y1="499.50" x2="175.10" y2="784.40" stroke="#FCFCFC" stroke-width="2" />
<line x1="331.50" y1="499.50" x2="331.50" y2="784.40" stroke="#FCFCFC" stroke-width="2" />
<line x1="487.90" y1="499.50" x2="487.90" y2="784.40" stroke="#FCFCFC" stroke-width="2" />
<line x1="80.65" y1="728.51" x2="597.40" y2="728.51" stroke="#FCFCFC" stroke-width="2" />
<line x1="80.65" y1="641.94" x2="597.40" y2="641.94" stroke="#FCFCFC" stroke-width="2" />
<line x1="80.65" y1="555.38" x2="597.40" y2="555.38" stroke="#FCFCFC" stroke-width="2" />
<line x1="96.90" y1="499.50" x2="96.90" y2="784.40" stroke="#F8F8F8" stroke-width="2" />
<line x1="253.30" y1="499.50" x2="253.30" y2="784.40" stroke="#F8F8F8" stroke-width="2" />
<line x1="409.70" y1="499.50" x2="409.70" y2="784.40" stroke="#F8F8F8" stroke-width="2" />
<line x1="566.10" y1="499.50" x2="566.10" y2="784.40" stroke="#F8F8F8" stroke-width="2" />
<line x1="80.65" y1="771.80" x2="597.40" y2="771.80" stroke="#F8F8F8" stroke-width="2" />
<line x1="80.65" y1="685.23" x2="597.40" y2="685.23" stroke="#F8F8F8" stroke-width="2" />
<line x1="80.65" y1="598.66" x2="597.40" y2="598.66" stroke="#F8F8F8" stroke-width="2" />
<line x1="80.65" y1="512.09" x2="597.40" y2="512.09" stroke="#F8F8F8" stroke-width="2" />
<line x1="676.15" y1="499.50" x2="676.15" y2="784.40" stroke="#FCFCFC" stroke-width="2" />
<line x1="852.65" y1="499.50" x2="852.65" y2="784.40" stroke="#FCFCFC" stroke-width="2" />
<line x1="1029.15" y1="499.50" x2="1029.15" y2="784.40" stroke="#FCFCFC" stroke-width="2" />
<line x1="601.80" y1="728.51" x2="1118.80" y2="728.51" stroke="#FCFCFC" stroke-width="2" />
<line x1="601.80" y1="641.94" x2="1118.80" y2="641.94" stroke="#FCFCFC" stroke-width="2" />
<line x1="601.80" y1="555.38" x2="1118.80" y2="555.38" stroke="#FCFCFC" stroke-width="2" />
<line x1="764.40" y1="499.50" x2="764.40" y2="784.40" stroke="#F8F8F8" stroke-width="2" />
<line x1="940.90" y1="499.50" x2="940.90" y2="784.40" stroke="#F8F8F8" stroke-width="2" />
<line x1="601.80" y1="771.80" x2="1118.80" y2="771.80" stroke="#F8F8F8" stroke-width="2" />
<line x1="601.80" y1="685.23" x2="1118.80" y2="685.23" stroke="#F8F8F8" stroke-width="2" />
<line x1="601.80" y1="598.66" x2="1118.80" y2="598.66" stroke="#F8F8F8" stroke-width="2" />
<line x1="601.80" y1="512.09" x2="1118.80" y2="512.09" stroke="#F8F8F8" stroke-width="2" />
<rect x="80.65" y="499.50" width="516.75" height="284.90" fill="none" stroke="#7F7F7F" stroke-width="1.2"/>
<rect x="601.80" y="499.50" width="517.00" height="284.90" fill="none" stroke="#7F7F7F" stroke-width="1.2"/>
<polyline points="112.54,597.16 128.18,499.5 566.10,499.5" fill="none" stroke="#66C2A5" stroke-width="2.3"/>
<polyline points="112.54,499.5 566.10,499.5" fill="none" stroke="#FC8D62" stroke-width="2.6"/>
<circle cx="112.54" cy="597.16" r="2.6" fill="#fff" stroke="#66C2A5" stroke-width="1.7"/>
<circle cx="112.54" cy="499.6" r="2.6" fill="#fff" stroke="#FC8D62" stroke-width="1.7"/>
<rect x="369.2" y="498.1" width="18.1" height="286.5" fill="#000" fill-opacity="0.5"/>
<circle cx="597.4" cy="662.0" r="2.6" fill="#000" stroke="#FC8D62" stroke-width="1.7"/>
<circle cx="597.4" cy="771.6" r="2.6" fill="#000" stroke="#66C2A5" stroke-width="1.7"/>
<circle cx="640.5" cy="687.5" r="2.9" fill="none" stroke="#66C2A5" stroke-width="1.7"/>
<circle cx="672.0" cy="713.4" r="2.9" fill="none" stroke="#66C2A5" stroke-width="1.7"/>
<circle cx="725.1" cy="752.3" r="2.9" fill="none" stroke="#66C2A5" stroke-width="1.7"/>
<circle cx="764.4" cy="767.4" r="2.9" fill="none" stroke="#66C2A5" stroke-width="1.7"/>
<circle cx="809.3" cy="771.7" r="2.9" fill="none" stroke="#66C2A5" stroke-width="1.7"/>
<circle cx="853.3" cy="771.7" r="2.9" fill="none" stroke="#66C2A5" stroke-width="1.7"/>
<circle cx="896.0" cy="771.7" r="2.9" fill="none" stroke="#66C2A5" stroke-width="1.7"/>
<circle cx="940.5" cy="771.7" r="2.9" fill="none" stroke="#66C2A5" stroke-width="1.7"/>
<circle cx="985.0" cy="771.7" r="2.9" fill="none" stroke="#66C2A5" stroke-width="1.7"/>
<circle cx="1028.6" cy="598.6" r="2.9" fill="none" stroke="#66C2A5" stroke-width="1.7"/>
<circle cx="1072.6" cy="597.3" r="2.9" fill="none" stroke="#66C2A5" stroke-width="1.7"/>
<circle cx="640.5" cy="529.1" r="2.9" fill="none" stroke="#FC8D62" stroke-width="1.7"/>
<circle cx="672.0" cy="558.9" r="2.9" fill="none" stroke="#FC8D62" stroke-width="1.7"/>
<circle cx="725.1" cy="610.7" r="2.9" fill="none" stroke="#FC8D62" stroke-width="1.7"/>
<circle cx="764.4" cy="639.6" r="2.9" fill="none" stroke="#FC8D62" stroke-width="1.7"/>
<circle cx="809.3" cy="656.9" r="2.9" fill="none" stroke="#FC8D62" stroke-width="1.7"/>
<circle cx="853.3" cy="661.7" r="2.9" fill="none" stroke="#FC8D62" stroke-width="1.7"/>
<circle cx="896.0" cy="661.7" r="2.9" fill="none" stroke="#FC8D62" stroke-width="1.7"/>
<circle cx="940.5" cy="661.7" r="2.9" fill="none" stroke="#FC8D62" stroke-width="1.7"/>
<circle cx="985.0" cy="661.7" r="2.9" fill="none" stroke="#FC8D62" stroke-width="1.7"/>
<circle cx="1028.6" cy="608.1" r="2.9" fill="none" stroke="#FC8D62" stroke-width="1.7"/>
<circle cx="1072.6" cy="499.4" r="2.9" fill="none" stroke="#FC8D62" stroke-width="1.7"/>
<rect x="1049.7" y="498.5" width="46.6" height="286.6" fill="#000" fill-opacity="0.5"/>
<text x="339.00" y="499.50" font-family='"Liberation Serif", serif' font-size="22.22" text-anchor="middle" font-weight="normal" fill="#000">iteration</text>
<text x="860.30" y="499.50" font-family='"Liberation Serif", serif' font-size="22.22" text-anchor="middle" font-weight="normal" fill="#000">log10(step size)</text>
<line x1="72.35" y1="512.50" x2="80.65" y2="512.50" stroke="#000" stroke-width="1.1" />
<text x="68.00" y="519.89" font-family='"Liberation Sans", sans-serif' font-size="22.6" text-anchor="end" font-weight="normal" fill="#000">0.5</text>
<line x1="72.35" y1="598.50" x2="80.65" y2="598.50" stroke="#000" stroke-width="1.1" />
<text x="68.00" y="606.46" font-family='"Liberation Sans", sans-serif' font-size="22.6" text-anchor="end" font-weight="normal" fill="#000">0.4</text>
<line x1="72.35" y1="685.50" x2="80.65" y2="685.50" stroke="#000" stroke-width="1.1" />
<text x="68.00" y="693.03" font-family='"Liberation Sans", sans-serif' font-size="22.6" text-anchor="end" font-weight="normal" fill="#000">0.3</text>
<line x1="72.35" y1="771.50" x2="80.65" y2="771.50" stroke="#000" stroke-width="1.1" />
<text x="68.00" y="779.60" font-family='"Liberation Sans", sans-serif' font-size="22.6" text-anchor="end" font-weight="normal" fill="#000">0.2</text>
<line x1="96.50" y1="784.40" x2="96.50" y2="792.40" stroke="#000" stroke-width="1.1" />
<text x="96.90" y="812.90" font-family='"Liberation Sans", sans-serif' font-size="22.6" text-anchor="middle" font-weight="normal" fill="#000">0</text>
<line x1="253.50" y1="784.40" x2="253.50" y2="792.40" stroke="#000" stroke-width="1.1" />
<text x="253.30" y="812.90" font-family='"Liberation Sans", sans-serif' font-size="22.6" text-anchor="middle" font-weight="normal" fill="#000">10</text>
<line x1="409.50" y1="784.40" x2="409.50" y2="792.40" stroke="#000" stroke-width="1.1" />
<text x="409.70" y="812.90" font-family='"Liberation Sans", sans-serif' font-size="22.6" text-anchor="middle" font-weight="normal" fill="#000">20</text>
<line x1="566.50" y1="784.40" x2="566.50" y2="792.40" stroke="#000" stroke-width="1.1" />
<text x="566.10" y="812.90" font-family='"Liberation Sans", sans-serif' font-size="22.6" text-anchor="middle" font-weight="normal" fill="#000">30</text>
<line x1="764.50" y1="784.40" x2="764.50" y2="792.40" stroke="#000" stroke-width="1.1" />
<text x="764.40" y="812.90" font-family='"Liberation Sans", sans-serif' font-size="22.6" text-anchor="middle" font-weight="normal" fill="#000">-3</text>
<line x1="940.50" y1="784.40" x2="940.50" y2="792.40" stroke="#000" stroke-width="1.1" />
<text x="940.90" y="812.90" font-family='"Liberation Sans", sans-serif' font-size="22.6" text-anchor="middle" font-weight="normal" fill="#000">-2</text>
<line x1="1117.50" y1="784.40" x2="1117.50" y2="792.40" stroke="#000" stroke-width="1.1" />
<text x="1117.40" y="812.90" font-family='"Liberation Sans", sans-serif' font-size="22.6" text-anchor="middle" font-weight="normal" fill="#000">-1</text>
<text x="23.50" y="641.60" font-family='"Liberation Serif", serif' font-size="22.22" text-anchor="middle" font-weight="normal" fill="#000" transform="rotate(-90 23.5 641.6)">mean squared error</text></svg></div></body></html>
